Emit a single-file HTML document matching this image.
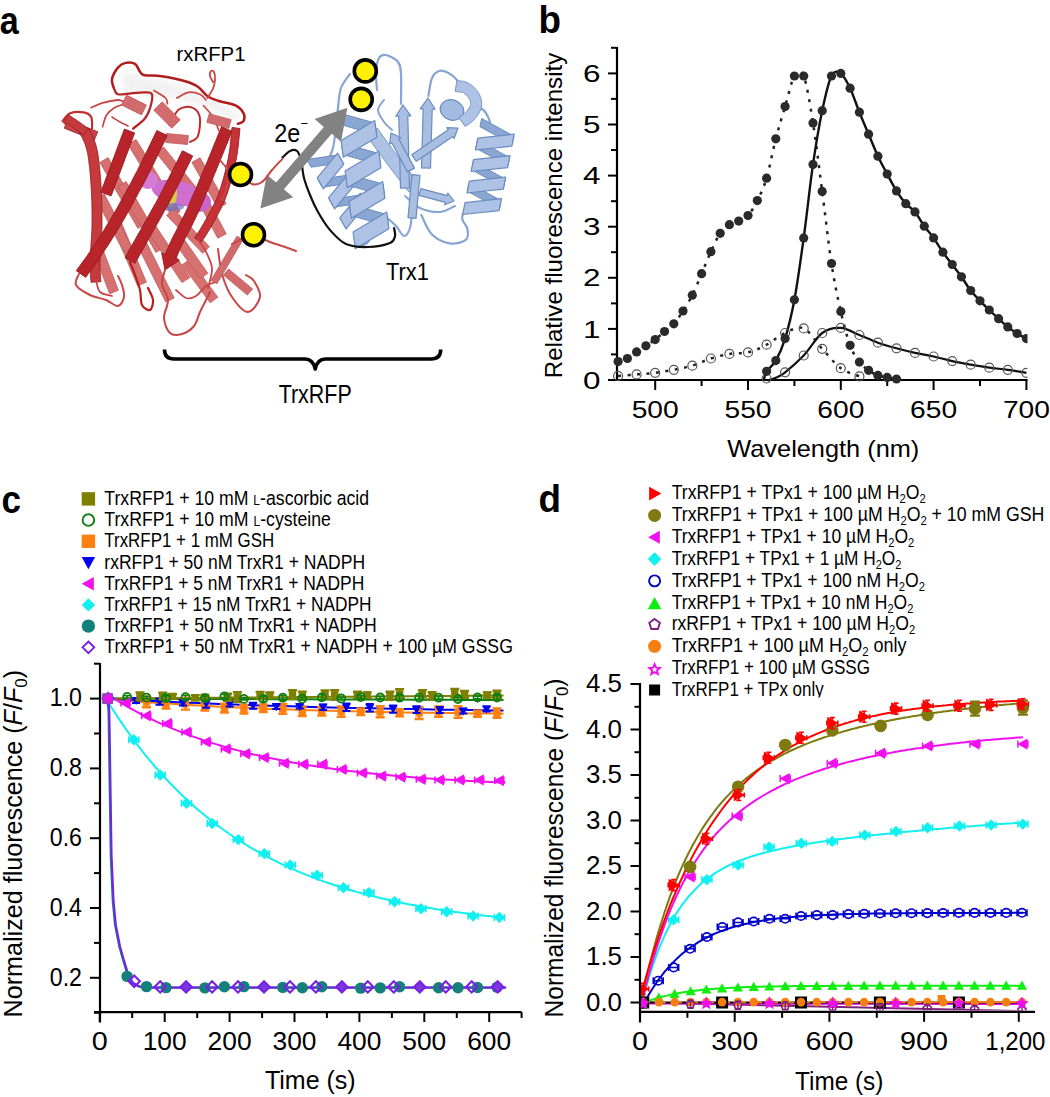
<!DOCTYPE html>
<html><head><meta charset="utf-8"><style>
html,body{margin:0;padding:0;background:#fff;}
svg{display:block;}
text{font-family:"Liberation Sans", sans-serif;fill:#000;}
</style></head><body>
<svg width="1050" height="1097" viewBox="0 0 1050 1097">
<rect width="1050" height="1097" fill="#fff"/>
<text x="-0.3" y="33.7" font-size="38" text-anchor="start" font-weight="bold" textLength="19" lengthAdjust="spacingAndGlyphs">a</text>
<text x="538.5" y="33.0" font-size="38" text-anchor="start" font-weight="bold" textLength="22.5" lengthAdjust="spacingAndGlyphs">b</text>
<text x="1.5" y="512.5" font-size="38" text-anchor="start" font-weight="bold" textLength="19.5" lengthAdjust="spacingAndGlyphs">c</text>
<text x="538.5" y="511.7" font-size="38" text-anchor="start" font-weight="bold" textLength="22.5" lengthAdjust="spacingAndGlyphs">d</text>
<line x1="617.0" y1="47.0" x2="617.0" y2="381.0" stroke="#000" stroke-width="2.2"/>
<line x1="608.0" y1="380.0" x2="1027.5" y2="380.0" stroke="#000" stroke-width="2.2"/>
<line x1="608.0" y1="380.0" x2="617.0" y2="380.0" stroke="#000" stroke-width="2"/>
<line x1="611.0" y1="354.4" x2="617.0" y2="354.4" stroke="#000" stroke-width="2"/>
<line x1="608.0" y1="328.9" x2="617.0" y2="328.9" stroke="#000" stroke-width="2"/>
<line x1="611.0" y1="303.4" x2="617.0" y2="303.4" stroke="#000" stroke-width="2"/>
<line x1="608.0" y1="277.8" x2="617.0" y2="277.8" stroke="#000" stroke-width="2"/>
<line x1="611.0" y1="252.2" x2="617.0" y2="252.2" stroke="#000" stroke-width="2"/>
<line x1="608.0" y1="226.7" x2="617.0" y2="226.7" stroke="#000" stroke-width="2"/>
<line x1="611.0" y1="201.2" x2="617.0" y2="201.2" stroke="#000" stroke-width="2"/>
<line x1="608.0" y1="175.6" x2="617.0" y2="175.6" stroke="#000" stroke-width="2"/>
<line x1="611.0" y1="150.0" x2="617.0" y2="150.0" stroke="#000" stroke-width="2"/>
<line x1="608.0" y1="124.5" x2="617.0" y2="124.5" stroke="#000" stroke-width="2"/>
<line x1="611.0" y1="98.9" x2="617.0" y2="98.9" stroke="#000" stroke-width="2"/>
<line x1="608.0" y1="73.4" x2="617.0" y2="73.4" stroke="#000" stroke-width="2"/>
<line x1="611.0" y1="47.8" x2="617.0" y2="47.8" stroke="#000" stroke-width="2"/>
<line x1="655.2" y1="380.0" x2="655.2" y2="390.0" stroke="#000" stroke-width="2"/>
<line x1="701.6" y1="380.0" x2="701.6" y2="386.0" stroke="#000" stroke-width="2"/>
<line x1="748.0" y1="380.0" x2="748.0" y2="390.0" stroke="#000" stroke-width="2"/>
<line x1="794.4" y1="380.0" x2="794.4" y2="386.0" stroke="#000" stroke-width="2"/>
<line x1="840.8" y1="380.0" x2="840.8" y2="390.0" stroke="#000" stroke-width="2"/>
<line x1="887.2" y1="380.0" x2="887.2" y2="386.0" stroke="#000" stroke-width="2"/>
<line x1="933.6" y1="380.0" x2="933.6" y2="390.0" stroke="#000" stroke-width="2"/>
<line x1="980.0" y1="380.0" x2="980.0" y2="386.0" stroke="#000" stroke-width="2"/>
<line x1="1026.4" y1="380.0" x2="1026.4" y2="390.0" stroke="#000" stroke-width="2"/>
<text x="600.5" y="388.6" font-size="24" text-anchor="end" textLength="17.5" lengthAdjust="spacingAndGlyphs">0</text>
<text x="600.5" y="337.5" font-size="24" text-anchor="end" textLength="17.5" lengthAdjust="spacingAndGlyphs">1</text>
<text x="600.5" y="286.4" font-size="24" text-anchor="end" textLength="17.5" lengthAdjust="spacingAndGlyphs">2</text>
<text x="600.5" y="235.3" font-size="24" text-anchor="end" textLength="17.5" lengthAdjust="spacingAndGlyphs">3</text>
<text x="600.5" y="184.2" font-size="24" text-anchor="end" textLength="17.5" lengthAdjust="spacingAndGlyphs">4</text>
<text x="600.5" y="133.1" font-size="24" text-anchor="end" textLength="17.5" lengthAdjust="spacingAndGlyphs">5</text>
<text x="600.5" y="82.0" font-size="24" text-anchor="end" textLength="17.5" lengthAdjust="spacingAndGlyphs">6</text>
<text x="655.2" y="417.5" font-size="24" text-anchor="middle" textLength="47" lengthAdjust="spacingAndGlyphs">500</text>
<text x="748.0" y="417.5" font-size="24" text-anchor="middle" textLength="47" lengthAdjust="spacingAndGlyphs">550</text>
<text x="840.8" y="417.5" font-size="24" text-anchor="middle" textLength="47" lengthAdjust="spacingAndGlyphs">600</text>
<text x="933.6" y="417.5" font-size="24" text-anchor="middle" textLength="47" lengthAdjust="spacingAndGlyphs">650</text>
<text x="1026.4" y="417.5" font-size="24" text-anchor="middle" textLength="47" lengthAdjust="spacingAndGlyphs">700</text>
<text x="823.3" y="456.7" font-size="24" text-anchor="middle" textLength="192" lengthAdjust="spacingAndGlyphs">Wavelength (nm)</text>
<text x="562.0" y="215.5" font-size="24" text-anchor="middle" textLength="325.5" lengthAdjust="spacingAndGlyphs" transform="rotate(-90 562.0 215.5)">Relative fluorescence intensity</text>
<line x1="100.0" y1="663.0" x2="100.0" y2="1022.5" stroke="#000" stroke-width="2.2"/>
<line x1="94.0" y1="1012.2" x2="521.5" y2="1012.2" stroke="#000" stroke-width="2.2"/>
<line x1="94.0" y1="1012.7" x2="100.0" y2="1012.7" stroke="#000" stroke-width="2"/>
<line x1="90.0" y1="977.8" x2="100.0" y2="977.8" stroke="#000" stroke-width="2"/>
<line x1="94.0" y1="942.9" x2="100.0" y2="942.9" stroke="#000" stroke-width="2"/>
<line x1="90.0" y1="908.0" x2="100.0" y2="908.0" stroke="#000" stroke-width="2"/>
<line x1="94.0" y1="873.1" x2="100.0" y2="873.1" stroke="#000" stroke-width="2"/>
<line x1="90.0" y1="838.2" x2="100.0" y2="838.2" stroke="#000" stroke-width="2"/>
<line x1="94.0" y1="803.3" x2="100.0" y2="803.3" stroke="#000" stroke-width="2"/>
<line x1="90.0" y1="768.4" x2="100.0" y2="768.4" stroke="#000" stroke-width="2"/>
<line x1="94.0" y1="733.5" x2="100.0" y2="733.5" stroke="#000" stroke-width="2"/>
<line x1="90.0" y1="698.6" x2="100.0" y2="698.6" stroke="#000" stroke-width="2"/>
<line x1="94.0" y1="663.7" x2="100.0" y2="663.7" stroke="#000" stroke-width="2"/>
<line x1="99.8" y1="1012.0" x2="99.8" y2="1022.0" stroke="#000" stroke-width="2"/>
<line x1="132.2" y1="1012.0" x2="132.2" y2="1018.0" stroke="#000" stroke-width="2"/>
<line x1="164.7" y1="1012.0" x2="164.7" y2="1022.0" stroke="#000" stroke-width="2"/>
<line x1="197.2" y1="1012.0" x2="197.2" y2="1018.0" stroke="#000" stroke-width="2"/>
<line x1="229.6" y1="1012.0" x2="229.6" y2="1022.0" stroke="#000" stroke-width="2"/>
<line x1="262.1" y1="1012.0" x2="262.1" y2="1018.0" stroke="#000" stroke-width="2"/>
<line x1="294.5" y1="1012.0" x2="294.5" y2="1022.0" stroke="#000" stroke-width="2"/>
<line x1="326.9" y1="1012.0" x2="326.9" y2="1018.0" stroke="#000" stroke-width="2"/>
<line x1="359.4" y1="1012.0" x2="359.4" y2="1022.0" stroke="#000" stroke-width="2"/>
<line x1="391.9" y1="1012.0" x2="391.9" y2="1018.0" stroke="#000" stroke-width="2"/>
<line x1="424.3" y1="1012.0" x2="424.3" y2="1022.0" stroke="#000" stroke-width="2"/>
<line x1="456.8" y1="1012.0" x2="456.8" y2="1018.0" stroke="#000" stroke-width="2"/>
<line x1="489.2" y1="1012.0" x2="489.2" y2="1022.0" stroke="#000" stroke-width="2"/>
<line x1="521.6" y1="1012.0" x2="521.6" y2="1018.0" stroke="#000" stroke-width="2"/>
<text x="82.0" y="985.6" font-size="25" text-anchor="end" textLength="32.2" lengthAdjust="spacingAndGlyphs">0.2</text>
<text x="82.0" y="915.8" font-size="25" text-anchor="end" textLength="32.2" lengthAdjust="spacingAndGlyphs">0.4</text>
<text x="82.0" y="846.0" font-size="25" text-anchor="end" textLength="32.2" lengthAdjust="spacingAndGlyphs">0.6</text>
<text x="82.0" y="776.2" font-size="25" text-anchor="end" textLength="32.2" lengthAdjust="spacingAndGlyphs">0.8</text>
<text x="82.0" y="706.4" font-size="25" text-anchor="end" textLength="32.2" lengthAdjust="spacingAndGlyphs">1.0</text>
<text x="99.8" y="1050.3" font-size="25" text-anchor="middle" textLength="16" lengthAdjust="spacingAndGlyphs">0</text>
<text x="164.7" y="1050.3" font-size="25" text-anchor="middle" textLength="44" lengthAdjust="spacingAndGlyphs">100</text>
<text x="229.6" y="1050.3" font-size="25" text-anchor="middle" textLength="44" lengthAdjust="spacingAndGlyphs">200</text>
<text x="294.5" y="1050.3" font-size="25" text-anchor="middle" textLength="44" lengthAdjust="spacingAndGlyphs">300</text>
<text x="359.4" y="1050.3" font-size="25" text-anchor="middle" textLength="44" lengthAdjust="spacingAndGlyphs">400</text>
<text x="424.3" y="1050.3" font-size="25" text-anchor="middle" textLength="44" lengthAdjust="spacingAndGlyphs">500</text>
<text x="489.2" y="1050.3" font-size="25" text-anchor="middle" textLength="44" lengthAdjust="spacingAndGlyphs">600</text>
<text x="310.3" y="1089.3" font-size="25" text-anchor="middle" textLength="90.8" lengthAdjust="spacingAndGlyphs">Time (s)</text>
<text x="22.5" y="843.6" font-size="25" text-anchor="middle" textLength="347.6" lengthAdjust="spacingAndGlyphs" transform="rotate(-90 22.5 843.6)">Normalized fluorescence (<tspan font-style="italic">F</tspan>/<tspan font-style="italic">F</tspan><tspan font-size="17" dy="5">0</tspan><tspan dy="-5">)</tspan></text>
<line x1="640.0" y1="683.0" x2="640.0" y2="1022.5" stroke="#000" stroke-width="2.2"/>
<line x1="640.0" y1="1011.8" x2="1035.0" y2="1011.8" stroke="#000" stroke-width="2.2"/>
<line x1="630.5" y1="1002.5" x2="640.0" y2="1002.5" stroke="#000" stroke-width="2"/>
<line x1="634.5" y1="979.8" x2="640.0" y2="979.8" stroke="#000" stroke-width="2"/>
<line x1="630.5" y1="957.0" x2="640.0" y2="957.0" stroke="#000" stroke-width="2"/>
<line x1="634.5" y1="934.2" x2="640.0" y2="934.2" stroke="#000" stroke-width="2"/>
<line x1="630.5" y1="911.5" x2="640.0" y2="911.5" stroke="#000" stroke-width="2"/>
<line x1="634.5" y1="888.8" x2="640.0" y2="888.8" stroke="#000" stroke-width="2"/>
<line x1="630.5" y1="866.0" x2="640.0" y2="866.0" stroke="#000" stroke-width="2"/>
<line x1="634.5" y1="843.2" x2="640.0" y2="843.2" stroke="#000" stroke-width="2"/>
<line x1="630.5" y1="820.5" x2="640.0" y2="820.5" stroke="#000" stroke-width="2"/>
<line x1="634.5" y1="797.8" x2="640.0" y2="797.8" stroke="#000" stroke-width="2"/>
<line x1="630.5" y1="775.0" x2="640.0" y2="775.0" stroke="#000" stroke-width="2"/>
<line x1="634.5" y1="752.2" x2="640.0" y2="752.2" stroke="#000" stroke-width="2"/>
<line x1="630.5" y1="729.5" x2="640.0" y2="729.5" stroke="#000" stroke-width="2"/>
<line x1="634.5" y1="706.8" x2="640.0" y2="706.8" stroke="#000" stroke-width="2"/>
<line x1="630.5" y1="684.0" x2="640.0" y2="684.0" stroke="#000" stroke-width="2"/>
<text x="622.0" y="1010.9" font-size="25" text-anchor="end" textLength="36" lengthAdjust="spacingAndGlyphs">0.0</text>
<text x="622.0" y="965.4" font-size="25" text-anchor="end" textLength="36" lengthAdjust="spacingAndGlyphs">1.5</text>
<text x="622.0" y="919.9" font-size="25" text-anchor="end" textLength="36" lengthAdjust="spacingAndGlyphs">2.0</text>
<text x="622.0" y="874.4" font-size="25" text-anchor="end" textLength="36" lengthAdjust="spacingAndGlyphs">2.5</text>
<text x="622.0" y="828.9" font-size="25" text-anchor="end" textLength="36" lengthAdjust="spacingAndGlyphs">3.0</text>
<text x="622.0" y="783.4" font-size="25" text-anchor="end" textLength="36" lengthAdjust="spacingAndGlyphs">3.5</text>
<text x="622.0" y="737.9" font-size="25" text-anchor="end" textLength="36" lengthAdjust="spacingAndGlyphs">4.0</text>
<text x="622.0" y="692.4" font-size="25" text-anchor="end" textLength="36" lengthAdjust="spacingAndGlyphs">4.5</text>
<line x1="640.0" y1="1011.8" x2="640.0" y2="1021.8" stroke="#000" stroke-width="2"/>
<line x1="687.4" y1="1011.8" x2="687.4" y2="1017.8" stroke="#000" stroke-width="2"/>
<line x1="734.7" y1="1011.8" x2="734.7" y2="1021.8" stroke="#000" stroke-width="2"/>
<line x1="782.1" y1="1011.8" x2="782.1" y2="1017.8" stroke="#000" stroke-width="2"/>
<line x1="829.4" y1="1011.8" x2="829.4" y2="1021.8" stroke="#000" stroke-width="2"/>
<line x1="876.8" y1="1011.8" x2="876.8" y2="1017.8" stroke="#000" stroke-width="2"/>
<line x1="924.1" y1="1011.8" x2="924.1" y2="1021.8" stroke="#000" stroke-width="2"/>
<line x1="971.5" y1="1011.8" x2="971.5" y2="1017.8" stroke="#000" stroke-width="2"/>
<line x1="1018.8" y1="1011.8" x2="1018.8" y2="1021.8" stroke="#000" stroke-width="2"/>
<text x="640.0" y="1050.3" font-size="25" text-anchor="middle" textLength="16" lengthAdjust="spacingAndGlyphs">0</text>
<text x="734.7" y="1050.3" font-size="25" text-anchor="middle" textLength="47" lengthAdjust="spacingAndGlyphs">300</text>
<text x="829.4" y="1050.3" font-size="25" text-anchor="middle" textLength="48" lengthAdjust="spacingAndGlyphs">600</text>
<text x="924.1" y="1050.3" font-size="25" text-anchor="middle" textLength="48" lengthAdjust="spacingAndGlyphs">900</text>
<text x="1015.3" y="1050.3" font-size="25" text-anchor="middle" textLength="60" lengthAdjust="spacingAndGlyphs">1,200</text>
<text x="839.2" y="1090.0" font-size="25" text-anchor="middle" textLength="88.3" lengthAdjust="spacingAndGlyphs">Time (s)</text>
<text x="562.7" y="848.0" font-size="25" text-anchor="middle" textLength="338.8" lengthAdjust="spacingAndGlyphs" transform="rotate(-90 562.7 848.0)">Normalized fluorescence (<tspan font-style="italic">F</tspan>/<tspan font-style="italic">F</tspan><tspan font-size="17" dy="5">0</tspan><tspan dy="-5">)</tspan></text>
<path d="M401.0,104.0 C401.0,99.0 401.5,81.0 401.0,74.0 C400.5,67.0 400.5,65.2 398.0,62.0 C395.5,58.8 389.2,55.7 386.0,55.0 C382.8,54.3 380.7,55.2 379.0,58.0 C377.3,60.8 376.3,66.7 376.0,72.0 C375.7,77.3 376.8,87.0 377.0,90.0" fill="none" stroke="#86a5d3" stroke-width="2.2" stroke-linecap="round" stroke-linejoin="round"/>
<path d="M428.4,96.0 C429.0,93.0 430.2,82.2 432.0,78.0 C433.8,73.8 436.4,71.9 439.1,71.0 C441.8,70.1 445.0,71.3 448.0,72.8 C451.0,74.3 454.8,77.5 456.9,79.9 C459.0,82.3 459.8,85.8 460.4,87.0" fill="none" stroke="#86a5d3" stroke-width="2.2" stroke-linecap="round" stroke-linejoin="round"/>
<path d="M474.6,108.3 C476.1,108.6 481.1,108.2 483.5,110.0 C485.9,111.8 487.7,116.3 488.9,119.0 C490.1,121.7 490.3,124.8 490.6,126.0" fill="none" stroke="#86a5d3" stroke-width="2.2" stroke-linecap="round" stroke-linejoin="round"/>
<path d="M485.3,209.6 C482.3,209.6 471.4,208.1 467.5,209.6 C463.6,211.1 462.2,215.2 462.2,218.5 C462.2,221.8 466.9,225.6 467.5,229.2 C468.1,232.8 468.8,237.5 465.8,239.9 C462.9,242.3 455.4,244.3 449.8,243.4 C444.2,242.5 436.8,239.2 432.0,234.5 C427.2,229.8 423.1,218.2 421.3,215.0" fill="none" stroke="#86a5d3" stroke-width="2.2" stroke-linecap="round" stroke-linejoin="round"/>
<path d="M412.0,212.0 C411.7,214.7 411.3,224.0 410.0,228.0 C408.7,232.0 406.3,236.3 404.0,236.0 C401.7,235.7 399.0,229.0 396.0,226.0 C393.0,223.0 389.3,218.7 386.0,218.0 C382.7,217.3 377.7,221.3 376.0,222.0" fill="none" stroke="#86a5d3" stroke-width="2.2" stroke-linecap="round" stroke-linejoin="round"/>
<path d="M350.0,74.0 C348.5,76.3 343.0,82.3 341.0,88.0 C339.0,93.7 338.8,101.3 338.0,108.0 C337.2,114.7 336.8,121.3 336.0,128.0 C335.2,134.7 334.3,142.7 333.0,148.0 C331.7,153.3 328.8,158.0 328.0,160.0" fill="none" stroke="#86a5d3" stroke-width="2.2" stroke-linecap="round" stroke-linejoin="round"/>
<path d="M405.0,196.0 C407.5,198.0 414.2,205.3 420.0,208.0 C425.8,210.7 434.2,212.3 440.0,212.0 C445.8,211.7 452.5,207.0 455.0,206.0" fill="none" stroke="#86a5d3" stroke-width="2.0" stroke-linecap="round" stroke-linejoin="round"/>
<path d="M372.0,236.0 C371.0,237.3 368.7,242.3 366.0,244.0 C363.3,245.7 357.7,245.7 356.0,246.0" fill="none" stroke="#86a5d3" stroke-width="2.0" stroke-linecap="round" stroke-linejoin="round"/>
<path d="M392.0,130.0 C390.7,128.7 386.3,125.3 384.0,122.0 C381.7,118.7 378.0,113.7 378.0,110.0 C378.0,106.3 383.0,101.7 384.0,100.0" fill="none" stroke="#86a5d3" stroke-width="2.0" stroke-linecap="round" stroke-linejoin="round"/>
<polygon points="366.7,135.8 367.3,136.7 368.1,137.7 369.0,139.0 370.0,140.4 371.1,141.9 372.3,143.5 373.5,145.2 374.8,147.0 376.0,148.8 377.3,150.5 378.6,152.2 379.8,153.9 381.0,155.5 382.2,157.1 383.4,158.8 384.7,160.5 386.0,162.2 387.2,163.9 388.5,165.6 389.8,167.3 391.1,169.0 392.4,170.7 393.6,172.3 394.8,173.9 396.1,175.6 397.4,177.3 398.8,179.0 400.1,180.8 401.5,182.5 402.8,184.3 404.1,185.9 405.3,187.4 406.4,188.8 407.4,190.1 408.2,191.1 408.9,192.0 419.1,184.0 418.4,183.1 417.6,182.1 416.6,180.8 415.5,179.4 414.3,177.9 413.1,176.2 411.7,174.6 410.4,172.8 409.0,171.1 407.7,169.4 406.4,167.7 405.2,166.1 404.0,164.5 402.7,162.8 401.5,161.2 400.2,159.5 398.9,157.8 397.6,156.1 396.4,154.4 395.1,152.7 393.8,151.0 392.6,149.4 391.4,147.7 390.2,146.1 389.1,144.5 387.8,142.9 386.6,141.1 385.3,139.4 384.1,137.6 382.8,136.0 381.7,134.3 380.6,132.8 379.6,131.4 378.7,130.1 377.9,129.1 377.3,128.2" fill="#adc2e4" stroke="#6a8cc0" stroke-width="0.9" stroke-linejoin="round"/>
<polygon points="306.8,159.6 311.1,167.2 342.9,162.4 338.6,154.8" fill="#8aa7d4" stroke="#6a8cc0" stroke-width="1" stroke-linejoin="round"/>
<polygon points="318.1,179.6 322.4,187.2 354.2,182.4 349.9,174.8" fill="#8aa7d4" stroke="#6a8cc0" stroke-width="1" stroke-linejoin="round"/>
<polygon points="329.5,199.6 333.8,207.2 365.5,202.4 361.2,194.8" fill="#8aa7d4" stroke="#6a8cc0" stroke-width="1" stroke-linejoin="round"/>
<polygon points="337.6,153.1 343.8,164.1 323.4,188.9 317.2,177.9" fill="#adc2e4" stroke="#6a8cc0" stroke-width="1.2" stroke-linejoin="round"/>
<polygon points="348.9,173.1 355.2,184.1 334.7,208.9 328.5,197.9" fill="#adc2e4" stroke="#6a8cc0" stroke-width="1.2" stroke-linejoin="round"/>
<polygon points="360.3,193.1 366.5,204.1 346.1,228.9 339.8,217.9" fill="#adc2e4" stroke="#6a8cc0" stroke-width="1.2" stroke-linejoin="round"/>
<polygon points="337.4,112.5 338.9,124.1 376.6,134.7 375.1,123.1" fill="#8aa7d4" stroke="#6a8cc0" stroke-width="1" stroke-linejoin="round"/>
<polygon points="341.4,143.0 342.9,154.6 380.6,165.2 379.1,153.6" fill="#8aa7d4" stroke="#6a8cc0" stroke-width="1" stroke-linejoin="round"/>
<polygon points="345.4,173.5 346.9,185.1 384.6,195.7 383.1,184.1" fill="#8aa7d4" stroke="#6a8cc0" stroke-width="1" stroke-linejoin="round"/>
<polygon points="349.4,204.0 350.9,215.6 388.6,226.2 387.1,214.6" fill="#8aa7d4" stroke="#6a8cc0" stroke-width="1" stroke-linejoin="round"/>
<polygon points="374.7,120.5 376.9,137.3 343.3,157.2 341.1,140.5" fill="#adc2e4" stroke="#6a8cc0" stroke-width="1.2" stroke-linejoin="round"/>
<polygon points="378.7,151.0 380.9,167.8 347.3,187.7 345.1,171.0" fill="#adc2e4" stroke="#6a8cc0" stroke-width="1.2" stroke-linejoin="round"/>
<polygon points="382.7,181.5 384.9,198.3 351.3,218.2 349.1,201.5" fill="#adc2e4" stroke="#6a8cc0" stroke-width="1.2" stroke-linejoin="round"/>
<polygon points="386.7,212.0 388.9,228.8 355.3,248.7 353.1,232.0" fill="#adc2e4" stroke="#6a8cc0" stroke-width="1.2" stroke-linejoin="round"/>
<polygon points="409.5,187.9 407.8,115.9 410.8,115.8 403.0,105.0 395.8,116.2 398.8,116.1 400.5,188.1" fill="#a9bfe2" stroke="#6a8cc0" stroke-width="1.2" stroke-linejoin="round"/>
<polygon points="430.5,168.1 432.2,109.1 435.2,109.2 428.0,98.0 420.2,108.8 423.2,108.9 421.5,167.9" fill="#a9bfe2" stroke="#6a8cc0" stroke-width="1.2" stroke-linejoin="round"/>
<polygon points="414.5,168.1 398.8,139.0 401.0,137.8 391.0,133.0 389.6,144.0 391.8,142.8 407.5,171.9" fill="#a9bfe2" stroke="#6a8cc0" stroke-width="1.2" stroke-linejoin="round"/>
<polygon points="416.3,161.3 452.8,136.4 454.2,138.4 458.0,128.0 446.9,127.7 448.3,129.8 411.7,154.7" fill="#a9bfe2" stroke="#6a8cc0" stroke-width="1.2" stroke-linejoin="round"/>
<polygon points="419.1,195.4 445.4,202.3 444.7,204.8 454.0,201.0 447.8,193.2 447.2,195.6 420.9,188.6" fill="#a9bfe2" stroke="#6a8cc0" stroke-width="1.2" stroke-linejoin="round"/>
<polygon points="412.0,174.6 408.0,217.6 416.0,218.4 420.0,175.4" fill="#a9bfe2" stroke="#6a8cc0" stroke-width="1.2" stroke-linejoin="round"/>
<polygon points="481.6,118.5 480.0,126.7 512.2,144.2 513.9,136.1" fill="#8aa7d4" stroke="#6a8cc0" stroke-width="1" stroke-linejoin="round"/>
<polygon points="477.4,140.0 475.8,148.2 508.0,165.7 509.6,157.6" fill="#8aa7d4" stroke="#6a8cc0" stroke-width="1" stroke-linejoin="round"/>
<polygon points="473.1,161.5 471.5,169.7 503.7,187.2 505.4,179.1" fill="#8aa7d4" stroke="#6a8cc0" stroke-width="1" stroke-linejoin="round"/>
<polygon points="468.9,183.0 467.3,191.2 499.5,208.7 501.1,200.6" fill="#8aa7d4" stroke="#6a8cc0" stroke-width="1" stroke-linejoin="round"/>
<polygon points="514.2,134.2 511.9,146.1 475.4,150.0 477.8,138.2" fill="#adc2e4" stroke="#6a8cc0" stroke-width="1.2" stroke-linejoin="round"/>
<polygon points="510.0,155.7 507.6,167.6 471.2,171.5 473.5,159.7" fill="#adc2e4" stroke="#6a8cc0" stroke-width="1.2" stroke-linejoin="round"/>
<polygon points="505.7,177.2 503.4,189.1 466.9,193.0 469.3,181.2" fill="#adc2e4" stroke="#6a8cc0" stroke-width="1.2" stroke-linejoin="round"/>
<polygon points="501.5,198.7 499.1,210.6 462.7,214.5 465.0,202.7" fill="#adc2e4" stroke="#6a8cc0" stroke-width="1.2" stroke-linejoin="round"/>
<ellipse cx="452" cy="110" rx="12" ry="10" fill="#a3bbe0" stroke="#6a8cc0" stroke-width="1.2" transform="rotate(20 452 110)"/>
<polygon points="455.1,91.4 455.8,91.5 456.5,91.6 457.3,91.7 458.1,91.8 459.0,91.9 459.8,92.0 460.6,92.1 461.4,92.2 462.0,92.4 462.6,92.5 463.1,92.7 463.4,92.8 463.8,93.1 464.3,93.5 464.9,93.9 465.5,94.3 466.0,94.8 466.6,95.4 467.2,96.0 467.7,96.5 468.1,97.1 468.5,97.7 468.9,98.2 469.2,98.7 469.5,99.2 469.7,99.8 470.0,100.3 470.2,100.9 470.4,101.5 470.5,102.1 470.6,102.6 470.7,103.1 470.7,103.6 470.7,104.1 470.7,104.5 470.6,104.9 470.5,105.3 470.4,105.7 470.1,106.3 469.8,106.9 469.4,107.6 469.0,108.3 468.5,109.0 468.0,109.7 467.5,110.4 466.9,111.1 466.4,111.8 465.9,112.3 465.5,112.8 465.0,113.2 464.5,113.6 463.9,114.1 463.2,114.6 462.5,115.1 461.9,115.5 461.2,116.0 460.5,116.4 459.9,116.8 459.3,117.2 458.8,117.5 465.2,126.5 465.5,126.3 465.9,126.0 466.4,125.7 467.1,125.2 467.9,124.7 468.7,124.2 469.6,123.6 470.5,122.9 471.4,122.2 472.3,121.4 473.3,120.6 474.1,119.7 474.8,118.8 475.5,118.0 476.2,117.1 476.9,116.2 477.6,115.2 478.3,114.2 478.9,113.2 479.5,112.1 480.1,110.9 480.6,109.7 481.1,108.4 481.4,107.1 481.6,105.8 481.7,104.5 481.7,103.3 481.6,102.1 481.5,100.9 481.2,99.7 481.0,98.6 480.6,97.4 480.2,96.4 479.8,95.3 479.3,94.3 478.8,93.3 478.2,92.3 477.5,91.3 476.8,90.3 476.0,89.4 475.2,88.5 474.4,87.6 473.5,86.8 472.6,86.0 471.7,85.2 470.7,84.5 469.7,83.8 468.6,83.2 467.3,82.6 466.0,82.1 464.8,81.7 463.5,81.4 462.3,81.2 461.2,81.0 460.2,80.9 459.2,80.8 458.4,80.7 457.7,80.7 457.2,80.6 456.9,80.6" fill="#adc2e4" stroke="#6a8cc0" stroke-width="0.9" stroke-linejoin="round"/>
<path d="M282.5,157.4 C283.8,156.3 287.6,152.1 290.0,151.0 C292.4,149.9 295.2,149.5 297.0,151.0 C298.8,152.5 299.8,155.5 301.0,160.0 C302.2,164.5 302.5,172.2 304.0,178.0 C305.5,183.8 307.7,189.3 310.0,195.0 C312.3,200.7 314.7,206.2 318.0,212.0 C321.3,217.8 325.3,224.7 330.0,230.0 C334.7,235.3 339.7,241.2 346.0,244.0 C352.3,246.8 360.7,247.2 368.0,247.0 C375.3,246.8 385.5,244.8 390.0,243.0 C394.5,241.2 394.3,238.5 395.0,236.0 C395.7,233.5 394.2,229.3 394.0,228.0" fill="none" stroke="#111" stroke-width="2.2" stroke-linecap="round" stroke-linejoin="round"/>
<polygon points="260.4,208.5 293.2,197.2 283.9,189.2 331.7,133.8 341.0,141.8 347.4,107.7 314.6,119.0 323.9,127.0 276.1,182.4 266.8,174.4" fill="#828282"/>
<defs><filter id="blr" x="-20%" y="-50%" width="140%" height="200%"><feGaussianBlur stdDeviation="3"/></filter></defs>
<path d="M122,72 C135,70 150,78 170,82 C200,88 222,102 240,114 L238,122 C220,114 200,106 180,100 C160,96 140,94 124,92 Z" fill="#dedede" opacity="0.4" filter="url(#blr)"/>
<path d="M114.0,88.6 C113.7,87.0 111.3,82.5 112.0,79.0 C112.7,75.5 115.7,70.3 117.9,67.6 C120.2,64.9 122.7,63.5 125.5,62.9 C128.3,62.3 132.6,62.4 135.0,63.8 C137.4,65.2 138.2,69.5 139.8,71.4 C141.4,73.3 140.8,74.4 144.5,75.2 C148.2,76.0 155.0,75.2 161.7,76.2 C168.4,77.2 178.5,79.2 184.5,81.0 C190.5,82.8 194.1,84.2 197.9,86.7 C201.7,89.2 203.9,93.8 207.4,96.2 C210.9,98.6 214.0,99.4 218.8,101.0 C223.6,102.6 231.9,103.7 236.0,105.7 C240.1,107.8 242.3,110.8 243.6,113.3 C244.9,115.8 244.5,119.2 243.6,121.0 C242.7,122.8 238.8,123.3 237.9,123.8" fill="none" stroke="#b01c1c" stroke-width="2.5" stroke-linecap="round" stroke-linejoin="round"/>
<path d="M114.0,88.6 C114.7,89.5 115.0,93.5 117.9,94.3 C120.8,95.1 126.8,93.6 131.2,93.3 C135.6,93.0 141.0,92.2 144.5,92.4 C148.0,92.6 151.1,91.8 152.0,94.3 C152.9,96.8 151.4,103.5 150.2,107.6 C148.9,111.7 147.4,115.5 144.5,119.0 C141.6,122.5 134.9,127.0 133.0,128.6" fill="none" stroke="#b82222" stroke-width="2.2" stroke-linecap="round" stroke-linejoin="round"/>
<path d="M207.4,98.0 C208.3,96.4 211.7,91.6 213.0,88.6 C214.3,85.6 214.8,82.8 215.0,80.0 C215.2,77.2 214.7,73.5 214.0,72.0 C213.3,70.5 211.7,70.3 211.0,71.0 C210.3,71.7 209.7,74.2 210.0,76.0 C210.3,77.8 212.5,81.0 213.0,82.0" fill="none" stroke="#c94646" stroke-width="1.8" stroke-linecap="round" stroke-linejoin="round"/>
<path d="M62.6,121.0 C63.9,119.7 66.7,114.7 70.2,113.3 C73.7,111.9 80.1,111.8 83.6,112.4 C87.1,113.0 89.8,114.4 91.2,117.1 C92.6,119.8 91.9,126.7 92.1,128.6" fill="none" stroke="#bf3030" stroke-width="2.2" stroke-linecap="round" stroke-linejoin="round"/>
<path d="M62.6,121.0 C63.8,122.2 67.1,126.0 70.0,128.0 C72.9,130.0 76.3,131.0 80.0,133.0 C83.7,135.0 90.0,138.8 92.0,140.0" fill="none" stroke="#c94646" stroke-width="2.0" stroke-linecap="round" stroke-linejoin="round"/>
<path d="M91.2,107.6 C93.1,106.8 98.1,104.2 102.6,102.9 C107.0,101.6 114.3,100.2 117.9,100.0 C121.5,99.8 123.0,101.7 124.0,102.0" fill="none" stroke="#c94646" stroke-width="1.8" stroke-linecap="round" stroke-linejoin="round"/>
<path d="M102.6,126.7 C103.2,124.8 104.5,118.3 106.4,115.2 C108.3,112.1 111.1,109.9 114.0,108.0 C116.9,106.1 122.3,104.7 124.0,104.0" fill="none" stroke="#c94646" stroke-width="1.7" stroke-linecap="round" stroke-linejoin="round"/>
<path d="M154.0,90.5 C155.9,91.8 163.3,95.8 165.5,98.0 C167.7,100.2 167.1,102.8 167.4,103.8" fill="none" stroke="#c94646" stroke-width="1.7" stroke-linecap="round" stroke-linejoin="round"/>
<path d="M176.9,98.0 C178.8,97.1 184.5,93.0 188.3,92.4 C192.1,91.8 196.9,93.0 199.8,94.3 C202.8,95.6 205.0,99.0 206.0,100.0" fill="none" stroke="#c94646" stroke-width="1.7" stroke-linecap="round" stroke-linejoin="round"/>
<path d="M169.3,124.8 C170.9,122.2 175.0,112.4 178.8,109.5 C182.6,106.6 188.6,106.3 192.1,107.6 C195.6,108.9 198.8,112.3 199.8,117.1 C200.8,121.9 199.5,132.0 197.9,136.2 C196.3,140.3 191.3,141.0 190.0,142.0" fill="none" stroke="#bf2b2b" stroke-width="2.0" stroke-linecap="round" stroke-linejoin="round"/>
<path d="M203.6,105.7 C205.2,107.6 210.6,113.0 213.1,117.1 C215.6,121.2 217.9,128.3 218.8,130.5" fill="none" stroke="#c94646" stroke-width="1.7" stroke-linecap="round" stroke-linejoin="round"/>
<path d="M112.0,117.0 C113.3,117.8 117.3,120.5 120.0,122.0 C122.7,123.5 126.7,125.3 128.0,126.0" fill="none" stroke="#c94646" stroke-width="1.6" stroke-linecap="round" stroke-linejoin="round"/>
<polygon points="99.9,162.4 137.9,228.4 146.1,223.6 108.1,157.6" fill="#d6716f" stroke="#c05a5c" stroke-width="0.8" stroke-linejoin="round"/>
<polygon points="111.6,223.8 137.6,285.8 146.4,282.2 120.4,220.2" fill="#d6716f" stroke="#c05a5c" stroke-width="0.8" stroke-linejoin="round"/>
<polygon points="127.9,144.5 171.9,216.5 180.1,211.5 136.1,139.5" fill="#d6716f" stroke="#c05a5c" stroke-width="0.8" stroke-linejoin="round"/>
<polygon points="166.6,215.3 202.6,253.3 209.4,246.7 173.4,208.7" fill="#d6716f" stroke="#c05a5c" stroke-width="0.8" stroke-linejoin="round"/>
<polygon points="135.8,242.1 165.8,302.1 174.2,297.9 144.2,237.9" fill="#d6716f" stroke="#c05a5c" stroke-width="0.8" stroke-linejoin="round"/>
<polygon points="191.9,162.3 217.9,208.3 226.1,203.7 200.1,157.7" fill="#d6716f" stroke="#c05a5c" stroke-width="0.8" stroke-linejoin="round"/>
<polygon points="156.3,153.0 196.3,203.0 203.7,197.0 163.7,147.0" fill="#d6716f" stroke="#c05a5c" stroke-width="0.8" stroke-linejoin="round"/>
<polygon points="93.6,251.7 109.6,293.7 118.4,290.3 102.4,248.3" fill="#d6716f" stroke="#c05a5c" stroke-width="0.8" stroke-linejoin="round"/>
<polygon points="182.2,264.8 210.2,302.8 217.8,297.2 189.8,259.2" fill="#d6716f" stroke="#c05a5c" stroke-width="0.8" stroke-linejoin="round"/>
<polygon points="95.8,198.2 123.8,252.2 132.2,247.8 104.2,193.8" fill="#d6716f" stroke="#c05a5c" stroke-width="0.8" stroke-linejoin="round"/>
<polygon points="117.9,186.4 155.9,252.4 164.1,247.6 126.1,181.6" fill="#d6716f" stroke="#c05a5c" stroke-width="0.8" stroke-linejoin="round"/>
<polygon points="146.0,228.6 182.0,282.6 190.0,277.4 154.0,223.4" fill="#d6716f" stroke="#c05a5c" stroke-width="0.8" stroke-linejoin="round"/>
<polygon points="172.1,238.7 200.1,278.7 207.9,273.3 179.9,233.3" fill="#d6716f" stroke="#c05a5c" stroke-width="0.8" stroke-linejoin="round"/>
<polygon points="201.8,208.2 217.8,238.2 226.2,233.8 210.2,203.8" fill="#d6716f" stroke="#c05a5c" stroke-width="0.8" stroke-linejoin="round"/>
<polygon points="121.5,104.9 141.5,114.9 146.5,105.1 126.5,95.1" fill="#d26b6d" stroke="#c05a5c" stroke-width="0.8" stroke-linejoin="round"/>
<polygon points="153.8,110.2 171.8,128.2 180.2,119.8 162.2,101.8" fill="#d26b6d" stroke="#c05a5c" stroke-width="0.8" stroke-linejoin="round"/>
<polygon points="165.6,142.5 187.6,144.5 188.4,135.5 166.4,133.5" fill="#d26b6d" stroke="#c05a5c" stroke-width="0.8" stroke-linejoin="round"/>
<polygon points="64.3,128.2 94.3,140.2 97.7,131.8 67.7,119.8" fill="#c84448" stroke="#921c20" stroke-width="0.8" stroke-linejoin="round"/>
<polygon points="206.8,122.3 228.8,128.3 231.2,119.7 209.2,113.7" fill="#d26b6d" stroke="#c05a5c" stroke-width="0.8" stroke-linejoin="round"/>
<ellipse cx="178" cy="193" rx="27" ry="12" fill="#cf6fcf" transform="rotate(14 178 193)"/>
<ellipse cx="148" cy="180" rx="10" ry="9" fill="#d67ad6"/>
<ellipse cx="200" cy="202" rx="11" ry="10" fill="#c964c9"/>
<ellipse cx="172" cy="196" rx="5" ry="11" fill="#d8c848" transform="rotate(10 172 196)"/>
<ellipse cx="172" cy="207" rx="12" ry="4" fill="#6c70c8" opacity="0.7"/>
<polygon points="79.4,132.0 79.9,133.0 80.4,134.2 81.1,135.5 81.7,136.8 82.5,138.3 83.2,139.9 84.0,141.6 84.7,143.3 85.4,145.2 86.0,147.1 86.6,149.0 87.1,151.1 87.6,153.3 88.0,155.7 88.4,158.3 88.8,161.0 89.1,163.9 89.5,166.8 89.8,169.8 90.1,172.9 90.3,176.0 90.6,179.1 90.8,182.2 91.0,185.3 91.2,188.5 91.4,191.7 91.5,194.9 91.7,198.3 91.8,201.6 91.9,205.0 91.9,208.4 92.0,211.8 92.0,215.1 92.0,218.4 92.0,221.7 92.0,224.9 91.9,228.1 91.8,231.3 91.6,234.6 91.5,237.9 91.2,241.2 91.0,244.4 90.8,247.6 90.6,250.7 90.4,253.7 90.2,256.6 90.1,259.3 90.0,261.9 90.0,264.3 90.0,266.6 90.1,268.8 90.2,270.9 90.3,272.9 90.4,274.7 90.5,276.4 90.6,277.9 90.8,279.2 90.9,280.4 91.0,281.4 91.0,282.3 101.0,281.7 100.9,280.7 100.8,279.6 100.7,278.4 100.6,277.0 100.5,275.5 100.4,273.9 100.2,272.2 100.1,270.4 100.1,268.5 100.0,266.5 100.0,264.3 100.0,262.1 100.1,259.7 100.2,257.1 100.3,254.3 100.5,251.4 100.8,248.3 101.0,245.1 101.2,241.8 101.4,238.5 101.6,235.1 101.8,231.8 101.9,228.4 102.0,225.1 102.0,221.8 102.0,218.4 102.0,215.1 102.0,211.6 101.9,208.2 101.9,204.8 101.8,201.3 101.7,197.9 101.5,194.5 101.4,191.2 101.2,187.9 101.0,184.7 100.8,181.5 100.5,178.3 100.3,175.1 100.0,172.0 99.7,168.8 99.4,165.7 99.1,162.7 98.7,159.7 98.3,156.8 97.9,154.1 97.4,151.4 96.9,148.9 96.3,146.4 95.6,144.1 94.8,141.8 94.0,139.6 93.1,137.6 92.3,135.7 91.5,134.0 90.7,132.4 90.0,131.0 89.4,129.8 88.9,128.8 88.6,128.0" fill="#c63a3e" stroke="#921c20" stroke-width="0.8" stroke-linejoin="round"/>
<polygon points="63.8,121.3 64.4,121.7 65.2,122.2 66.1,122.8 67.1,123.5 68.2,124.2 69.3,125.0 70.5,125.7 71.6,126.5 72.8,127.3 73.8,128.0 74.8,128.7 75.7,129.3 76.5,129.8 77.3,130.4 78.1,131.0 78.9,131.6 79.6,132.1 80.3,132.7 81.0,133.2 81.6,133.7 82.2,134.1 82.7,134.5 83.2,134.9 83.6,135.2 88.4,128.8 88.1,128.5 87.6,128.2 87.1,127.8 86.5,127.4 85.9,126.9 85.2,126.3 84.4,125.8 83.7,125.2 82.8,124.6 82.0,124.0 81.2,123.3 80.3,122.7 79.4,122.1 78.3,121.4 77.2,120.6 76.1,119.9 74.9,119.1 73.7,118.3 72.6,117.5 71.5,116.8 70.4,116.1 69.6,115.6 68.8,115.1 68.2,114.7" fill="#c63a3e" stroke="#921c20" stroke-width="0.8" stroke-linejoin="round"/>
<polygon points="124.3,129.1 123.8,130.6 123.1,132.5 122.3,134.6 121.4,137.1 120.4,139.8 119.3,142.6 118.3,145.5 117.1,148.5 116.0,151.5 114.9,154.5 113.9,157.4 112.8,160.1 111.8,162.8 110.7,165.7 109.6,168.8 108.4,171.8 107.3,175.0 106.1,178.0 105.0,181.0 104.0,183.7 103.0,186.3 102.2,188.6 101.4,190.5 100.9,192.1 111.1,195.9 111.7,194.4 112.5,192.4 113.3,190.2 114.3,187.6 115.3,184.8 116.4,181.9 117.6,178.8 118.7,175.7 119.9,172.6 121.0,169.6 122.1,166.7 123.2,163.9 124.2,161.2 125.2,158.3 126.3,155.4 127.5,152.4 128.6,149.4 129.7,146.4 130.7,143.6 131.7,140.9 132.6,138.5 133.4,136.3 134.1,134.4 134.7,132.9" fill="#b9232a" stroke="#921c20" stroke-width="0.9" stroke-linejoin="round"/>
<polygon points="156.8,130.5 155.9,132.5 154.7,134.9 153.3,137.8 151.8,141.0 150.1,144.5 148.3,148.3 146.5,152.1 144.5,156.1 142.6,160.0 140.7,163.9 138.7,167.7 136.9,171.4 135.0,174.9 133.1,178.6 131.1,182.4 129.1,186.2 127.0,190.0 125.0,193.8 122.9,197.6 120.8,201.3 118.8,205.0 116.8,208.5 114.9,211.9 113.0,215.1 111.2,218.2 109.5,221.2 107.7,224.1 106.0,226.8 104.4,229.5 102.7,232.2 101.1,234.7 99.5,237.3 97.9,239.7 96.3,242.1 94.7,244.5 93.2,246.8 91.7,249.1 90.1,251.5 88.4,253.8 86.8,256.2 85.2,258.4 83.6,260.6 82.1,262.7 80.6,264.7 79.3,266.5 78.2,268.1 77.1,269.5 76.3,270.7 85.7,277.3 86.5,276.2 87.5,274.9 88.6,273.3 89.9,271.5 91.4,269.5 92.9,267.4 94.5,265.1 96.2,262.8 97.9,260.4 99.5,258.0 101.2,255.6 102.8,253.2 104.4,250.8 105.9,248.4 107.5,246.0 109.1,243.5 110.8,240.9 112.4,238.3 114.1,235.6 115.8,232.9 117.6,230.0 119.3,227.1 121.1,224.0 123.0,220.9 124.9,217.6 126.8,214.2 128.8,210.6 130.9,206.9 133.0,203.1 135.0,199.3 137.1,195.5 139.2,191.6 141.3,187.8 143.3,184.0 145.2,180.3 147.1,176.6 149.0,172.9 150.9,169.1 152.9,165.1 154.9,161.1 156.8,157.1 158.7,153.2 160.5,149.5 162.2,146.0 163.7,142.8 165.1,139.9 166.2,137.5 167.2,135.5" fill="#b9232a" stroke="#921c20" stroke-width="0.9" stroke-linejoin="round"/>
<polygon points="182.5,150.7 181.4,152.8 180.1,155.5 178.5,158.6 176.8,162.1 174.9,165.8 172.9,169.8 170.8,173.9 168.8,178.1 166.7,182.2 164.6,186.1 162.7,189.9 160.9,193.3 159.2,196.5 157.5,199.7 155.8,202.9 154.0,206.0 152.3,209.0 150.6,212.1 149.0,215.0 147.3,218.0 145.7,220.9 144.1,223.7 142.5,226.5 141.0,229.2 139.5,231.9 137.9,234.7 136.3,237.5 134.8,240.3 133.2,243.0 131.7,245.7 130.3,248.2 129.0,250.6 127.8,252.7 126.7,254.7 125.7,256.3 125.0,257.7 135.0,263.3 135.8,262.0 136.7,260.3 137.8,258.4 139.0,256.2 140.3,253.8 141.8,251.3 143.3,248.7 144.8,245.9 146.4,243.1 147.9,240.3 149.5,237.5 151.0,234.8 152.5,232.1 154.1,229.3 155.7,226.5 157.3,223.6 159.0,220.7 160.7,217.7 162.4,214.7 164.1,211.6 165.8,208.4 167.6,205.2 169.3,202.0 171.1,198.7 172.9,195.2 174.9,191.4 176.9,187.4 179.0,183.3 181.1,179.1 183.2,175.0 185.2,171.0 187.1,167.2 188.8,163.7 190.4,160.6 191.7,158.0 192.7,155.9" fill="#b9232a" stroke="#921c20" stroke-width="0.9" stroke-linejoin="round"/>
<polygon points="221.4,126.8 220.6,128.8 219.6,131.3 218.4,134.2 217.1,137.4 215.7,141.0 214.1,144.7 212.6,148.6 211.0,152.6 209.3,156.5 207.7,160.4 206.2,164.2 204.7,167.8 203.2,171.3 201.7,174.8 200.2,178.4 198.7,182.1 197.2,185.7 195.7,189.3 194.1,192.9 192.6,196.4 191.1,199.9 189.6,203.2 188.2,206.5 186.8,209.6 185.4,212.6 184.0,215.5 182.6,218.3 181.2,221.0 179.8,223.7 178.5,226.4 177.1,228.9 175.8,231.5 174.5,234.0 173.2,236.6 172.0,239.1 170.8,241.6 169.6,244.1 168.5,246.7 167.4,249.3 166.3,251.8 165.2,254.4 161.7,252.9 165.0,270.0 179.3,260.2 175.8,258.8 176.9,256.3 177.9,253.8 179.0,251.3 180.1,248.8 181.2,246.4 182.3,244.1 183.5,241.7 184.7,239.3 186.0,236.8 187.3,234.2 188.7,231.6 190.0,229.0 191.5,226.2 192.9,223.4 194.3,220.5 195.8,217.5 197.2,214.4 198.7,211.2 200.2,207.9 201.7,204.5 203.2,201.0 204.7,197.4 206.2,193.8 207.8,190.2 209.3,186.5 210.8,182.9 212.4,179.3 213.8,175.7 215.3,172.2 216.8,168.6 218.4,164.8 220.0,160.9 221.6,156.9 223.2,152.9 224.8,149.0 226.3,145.3 227.8,141.7 229.1,138.5 230.2,135.6 231.2,133.1 232.0,131.2" fill="#b9232a" stroke="#921c20" stroke-width="0.9" stroke-linejoin="round"/>
<polygon points="232.0,127.5 231.8,129.1 231.7,131.0 231.4,133.3 231.2,135.8 230.9,138.5 230.6,141.3 230.3,144.3 230.0,147.4 229.6,150.4 229.1,153.4 228.6,156.4 228.1,159.2 227.5,162.0 226.8,165.0 226.1,168.0 225.4,171.0 224.6,174.1 223.8,177.2 222.9,180.3 222.0,183.3 221.1,186.3 220.2,189.2 219.2,191.9 218.3,194.6 217.3,197.1 216.2,199.7 215.1,202.2 213.9,204.6 212.7,207.0 211.5,209.4 210.2,211.7 209.0,213.9 207.8,216.1 206.7,218.2 205.5,220.2 204.5,222.1 203.5,223.8 202.5,225.5 201.6,227.1 200.6,228.7 199.7,230.2 198.8,231.6 197.9,232.9 197.1,234.1 196.4,235.2 195.7,236.2 195.1,237.1 194.6,237.8 201.4,242.2 201.8,241.4 202.4,240.6 203.0,239.6 203.8,238.5 204.6,237.3 205.5,235.9 206.4,234.5 207.4,232.9 208.4,231.3 209.4,229.6 210.5,227.8 211.5,225.9 212.5,224.0 213.6,222.1 214.8,220.0 216.0,217.8 217.3,215.5 218.5,213.1 219.8,210.7 221.1,208.1 222.3,205.5 223.5,202.9 224.7,200.2 225.7,197.4 226.8,194.6 227.8,191.7 228.7,188.7 229.7,185.6 230.6,182.5 231.5,179.3 232.3,176.1 233.1,173.0 233.9,169.8 234.6,166.8 235.3,163.7 235.9,160.8 236.5,157.8 237.0,154.7 237.5,151.5 237.9,148.3 238.3,145.2 238.6,142.2 238.9,139.3 239.2,136.5 239.4,134.0 239.6,131.8 239.8,130.0 240.0,128.5" fill="#c83236" stroke="#921c20" stroke-width="0.9" stroke-linejoin="round"/>
<path d="M79.0,274.0 C78.5,275.8 74.2,281.5 76.0,285.0 C77.8,288.5 85.0,292.5 90.0,295.0 C95.0,297.5 101.3,298.2 106.0,300.0 C110.7,301.8 115.0,306.5 118.0,306.0 C121.0,305.5 123.3,300.5 124.0,297.0 C124.7,293.5 123.0,288.5 122.0,285.0 C121.0,281.5 118.7,277.5 118.0,276.0" fill="none" stroke="#c94646" stroke-width="2.0" stroke-linecap="round" stroke-linejoin="round"/>
<path d="M130.0,262.0 C130.8,264.2 133.3,270.3 135.0,275.0 C136.7,279.7 138.8,285.0 140.0,290.0 C141.2,295.0 140.3,301.7 142.0,305.0 C143.7,308.3 148.2,310.8 150.0,310.0 C151.8,309.2 153.3,303.7 153.0,300.0 C152.7,296.3 148.8,290.0 148.0,288.0" fill="none" stroke="#b82020" stroke-width="2.2" stroke-linecap="round" stroke-linejoin="round"/>
<path d="M165.0,270.0 C164.5,272.3 161.5,279.0 162.0,284.0 C162.5,289.0 167.7,294.3 168.0,300.0 C168.3,305.7 163.7,312.5 164.0,318.0 C164.3,323.5 167.0,330.3 170.0,333.0 C173.0,335.7 178.0,335.2 182.0,334.0 C186.0,332.8 191.0,329.7 194.0,326.0 C197.0,322.3 198.0,316.3 200.0,312.0 C202.0,307.7 204.3,303.3 206.0,300.0 C207.7,296.7 209.3,293.3 210.0,292.0" fill="none" stroke="#c94646" stroke-width="2.0" stroke-linecap="round" stroke-linejoin="round"/>
<path d="M96.0,280.0 C96.7,282.0 97.3,289.3 100.0,292.0 C102.7,294.7 110.0,295.3 112.0,296.0" fill="none" stroke="#c94646" stroke-width="1.8" stroke-linecap="round" stroke-linejoin="round"/>
<path d="M176.0,290.0 C177.7,291.3 182.7,297.0 186.0,298.0 C189.3,299.0 192.7,298.0 196.0,296.0 C199.3,294.0 202.7,288.3 206.0,286.0 C209.3,283.7 214.3,282.7 216.0,282.0" fill="none" stroke="#c94646" stroke-width="1.8" stroke-linecap="round" stroke-linejoin="round"/>
<path d="M218.0,249.0 C218.7,253.2 219.7,266.0 222.0,274.0 C224.3,282.0 227.7,290.7 232.0,297.0 C236.3,303.3 243.3,312.0 248.0,312.0 C252.7,312.0 259.0,302.2 260.0,297.0 C261.0,291.8 256.3,284.7 254.0,281.0 C251.7,277.3 247.3,276.0 246.0,275.0" fill="none" stroke="#c94646" stroke-width="2.0" stroke-linecap="round" stroke-linejoin="round"/>
<polygon points="237.0,236.2 211.0,280.2 217.0,283.8 243.0,239.8" fill="#d06a6c" stroke="#c05a5c" stroke-width="0.8" stroke-linejoin="round"/>
<polygon points="223.4,275.1 247.4,295.1 252.6,288.9 228.6,268.9" fill="#d06a6c" stroke="#c05a5c" stroke-width="0.8" stroke-linejoin="round"/>
<path d="M198.0,240.0 C199.2,241.7 202.7,245.3 205.0,250.0 C207.3,254.7 211.5,261.7 212.0,268.0 C212.5,274.3 208.7,284.7 208.0,288.0" fill="none" stroke="#c94646" stroke-width="1.8" stroke-linecap="round" stroke-linejoin="round"/>
<path d="M220.0,160.0 C221.3,162.0 227.0,167.0 228.0,172.0 C229.0,177.0 227.0,185.3 226.0,190.0 C225.0,194.7 222.7,198.3 222.0,200.0" fill="none" stroke="#c94646" stroke-width="1.8" stroke-linecap="round" stroke-linejoin="round"/>
<path d="M226.0,166.0 C227.0,168.0 229.6,176.6 232.0,178.0 C234.4,179.4 239.1,175.1 240.5,174.5" fill="none" stroke="#c94646" stroke-width="2.0" stroke-linecap="round" stroke-linejoin="round"/>
<path d="M240.5,174.5 C242.4,176.1 248.4,182.8 252.0,184.0 C255.6,185.2 258.7,184.3 262.0,182.0 C265.3,179.7 268.6,173.9 272.0,170.0 C275.4,166.1 280.8,160.7 282.5,158.8" fill="none" stroke="#c94646" stroke-width="2.0" stroke-linecap="round" stroke-linejoin="round"/>
<path d="M253.5,234.7 C256.2,235.9 264.8,239.9 270.0,242.0 C275.2,244.1 280.7,245.5 285.0,247.0 C289.3,248.5 294.2,250.3 296.0,251.0" fill="none" stroke="#c94646" stroke-width="2.0" stroke-linecap="round" stroke-linejoin="round"/>
<path d="M232.0,244.0 C234.0,243.0 240.4,239.6 244.0,238.0 C247.6,236.4 251.9,235.2 253.5,234.7" fill="none" stroke="#c94646" stroke-width="2.0" stroke-linecap="round" stroke-linejoin="round"/>
<circle cx="365.3" cy="70.9" r="11" fill="#fff200" stroke="#000" stroke-width="3.6"/>
<circle cx="361.2" cy="99.4" r="11" fill="#fff200" stroke="#000" stroke-width="3.6"/>
<circle cx="240.5" cy="174.5" r="11" fill="#fff200" stroke="#000" stroke-width="3.6"/>
<circle cx="253.5" cy="234.7" r="11" fill="#fff200" stroke="#000" stroke-width="3.6"/>
<path d="M164.5,349.5 Q164.5,359 174,359 L305,359 Q313,359 315.2,369 Q317.4,359 325.4,359 L431,359 Q440.7,359 440.7,349.5" fill="none" stroke="#000" stroke-width="3.6" stroke-linejoin="round"/>
<text x="176.5" y="60.5" font-size="20" text-anchor="start" textLength="69" lengthAdjust="spacingAndGlyphs">rxRFP1</text>
<text x="274.3" y="141.7" font-size="25" text-anchor="start" textLength="26" lengthAdjust="spacingAndGlyphs">2e</text>
<text x="300.5" y="128.0" font-size="13" text-anchor="start">−</text>
<text x="386.0" y="280.3" font-size="23" text-anchor="start" textLength="43" lengthAdjust="spacingAndGlyphs">Trx1</text>
<text x="278.7" y="402.5" font-size="25" text-anchor="start" textLength="73" lengthAdjust="spacingAndGlyphs">TrxRFP</text>
<defs><clipPath id="cb"><rect x="610" y="40" width="417.5" height="345"/></clipPath></defs>
<g clip-path="url(#cb)">
<path d="M618.1,361.6 C619.6,361.1 624.3,360.2 627.4,358.5 C630.5,356.9 633.5,354.0 636.6,351.9 C639.7,349.8 642.8,347.8 645.9,345.8 C649.0,343.7 652.1,342.0 655.2,339.6 C658.3,337.2 661.4,334.1 664.5,331.5 C667.6,328.8 670.7,327.2 673.8,323.8 C676.9,320.4 679.9,315.8 683.0,311.0 C686.1,306.2 689.2,301.4 692.3,295.2 C695.4,289.0 698.5,281.0 701.6,273.7 C704.7,266.5 707.8,258.5 710.9,251.7 C714.0,245.0 717.1,237.9 720.2,233.3 C723.3,228.8 726.3,226.7 729.4,224.7 C732.5,222.6 735.6,222.6 738.7,221.1 C741.8,219.5 744.9,218.9 748.0,215.5 C751.1,212.1 754.2,206.9 757.3,200.6 C760.4,194.4 763.5,188.5 766.6,178.2 C769.7,167.8 772.7,150.7 775.8,138.8 C778.9,126.9 782.0,117.1 785.1,106.6 C788.2,96.1 791.3,81.1 794.4,76.0 C797.5,70.8 800.6,68.1 803.7,76.0 C806.8,83.8 809.9,103.7 813.0,123.0 C816.1,142.2 819.1,168.0 822.2,191.4 C825.3,214.9 828.4,243.5 831.5,263.5 C834.6,283.5 837.7,297.9 840.8,311.5 C843.9,325.2 847.0,336.8 850.1,345.3 C853.2,353.7 856.3,357.9 859.4,362.1 C862.5,366.3 865.5,368.1 868.6,370.3 C871.7,372.5 874.8,374.2 877.9,375.4 C881.0,376.6 884.1,376.8 887.2,377.4 C890.3,378.0 894.9,378.7 896.5,379.0" fill="none" stroke="#222" stroke-width="2.5" stroke-dasharray="3 6.5" stroke-linecap="butt"/>
<path d="M618.1,375.9 C621.2,375.7 630.5,374.9 636.6,374.4 C642.8,373.9 649.0,373.6 655.2,372.8 C661.4,372.1 667.6,371.0 673.8,369.8 C679.9,368.6 686.1,367.6 692.3,365.7 C698.5,363.8 704.7,360.5 710.9,358.5 C717.1,356.6 723.3,355.0 729.4,353.9 C735.6,352.9 741.8,353.9 748.0,352.4 C754.2,350.9 760.4,348.0 766.6,344.7 C772.7,341.5 778.9,335.7 785.1,333.0 C791.3,330.3 797.5,325.7 803.7,328.4 C809.9,331.0 816.1,342.2 822.2,348.8 C828.4,355.5 834.6,363.6 840.8,368.2 C847.0,372.8 856.3,375.1 859.4,376.4" fill="none" stroke="#222" stroke-width="2.5" stroke-dasharray="3 6.5" stroke-linecap="butt"/>
<path d="M763.8,380.0 C764.2,378.6 764.5,374.5 766.6,371.3 C768.6,368.1 772.7,366.0 775.8,360.6 C778.9,355.1 782.0,348.7 785.1,338.6 C788.2,328.5 791.3,316.6 794.4,299.8 C797.5,283.0 800.6,260.5 803.7,237.9 C806.8,215.4 809.9,185.6 813.0,164.4 C816.1,143.2 819.1,125.4 822.2,110.7 C825.3,96.0 828.4,82.2 831.5,76.0 C834.6,69.7 837.7,71.4 840.8,73.4 C843.9,75.4 847.0,81.7 850.1,88.2 C853.2,94.7 856.3,104.6 859.4,112.2 C862.5,119.9 865.5,126.9 868.6,134.2 C871.7,141.5 874.8,149.5 877.9,156.2 C881.0,162.8 884.1,168.3 887.2,174.1 C890.3,179.9 893.4,186.0 896.5,190.9 C899.6,195.9 902.7,200.2 905.8,203.7 C908.9,207.2 911.9,208.1 915.0,211.9 C918.1,215.6 921.2,221.8 924.3,226.2 C927.4,230.5 930.5,233.6 933.6,237.9 C936.7,242.3 939.8,247.8 942.9,252.2 C946.0,256.7 949.1,260.4 952.2,264.5 C955.3,268.6 958.3,272.4 961.4,276.8 C964.5,281.1 967.6,286.6 970.7,290.6 C973.8,294.6 976.9,297.6 980.0,300.8 C983.1,304.0 986.2,307.0 989.3,310.0 C992.4,313.0 995.5,315.9 998.6,318.7 C1001.7,321.5 1004.7,324.4 1007.8,326.9 C1010.9,329.3 1014.0,331.5 1017.1,333.5 C1020.2,335.5 1024.9,337.8 1026.4,338.6" fill="none" stroke="#111" stroke-width="2.4"/>
<path d="M767.5,380.5 C769.2,379.9 774.8,378.3 777.7,376.9 C780.6,375.6 780.8,375.9 785.1,372.3 C789.5,368.8 797.5,362.0 803.7,355.5 C809.9,348.9 816.1,337.6 822.2,333.0 C828.4,328.4 834.6,327.5 840.8,327.9 C847.0,328.2 853.2,332.6 859.4,335.0 C865.5,337.5 871.7,340.5 877.9,342.7 C884.1,344.9 890.3,346.6 896.5,348.3 C902.7,350.0 908.9,351.6 915.0,352.9 C921.2,354.3 927.4,355.1 933.6,356.5 C939.8,357.9 946.0,359.7 952.2,361.1 C958.3,362.5 964.5,363.6 970.7,364.7 C976.9,365.8 983.1,366.9 989.3,367.7 C995.5,368.6 1001.7,368.9 1007.8,369.8 C1014.0,370.6 1023.3,372.3 1026.4,372.8" fill="none" stroke="#111" stroke-width="2.2"/>
<circle cx="618.1" cy="375.9" r="4.5" fill="none" stroke="#555" stroke-width="1.2"/>
<circle cx="636.6" cy="374.4" r="4.5" fill="none" stroke="#555" stroke-width="1.2"/>
<circle cx="655.2" cy="372.8" r="4.5" fill="none" stroke="#555" stroke-width="1.2"/>
<circle cx="673.8" cy="369.8" r="4.5" fill="none" stroke="#555" stroke-width="1.2"/>
<circle cx="692.3" cy="365.7" r="4.5" fill="none" stroke="#555" stroke-width="1.2"/>
<circle cx="710.9" cy="358.5" r="4.5" fill="none" stroke="#555" stroke-width="1.2"/>
<circle cx="729.4" cy="353.9" r="4.5" fill="none" stroke="#555" stroke-width="1.2"/>
<circle cx="748.0" cy="352.4" r="4.5" fill="none" stroke="#555" stroke-width="1.2"/>
<circle cx="766.6" cy="344.7" r="4.5" fill="none" stroke="#555" stroke-width="1.2"/>
<circle cx="785.1" cy="333.0" r="4.5" fill="none" stroke="#555" stroke-width="1.2"/>
<circle cx="803.7" cy="328.4" r="4.5" fill="none" stroke="#555" stroke-width="1.2"/>
<circle cx="822.2" cy="348.8" r="4.5" fill="none" stroke="#555" stroke-width="1.2"/>
<circle cx="840.8" cy="368.2" r="4.5" fill="none" stroke="#555" stroke-width="1.2"/>
<circle cx="859.4" cy="376.4" r="4.5" fill="none" stroke="#555" stroke-width="1.2"/>
<circle cx="766.6" cy="378.5" r="4.5" fill="none" stroke="#555" stroke-width="1.2"/>
<circle cx="785.1" cy="372.3" r="4.5" fill="none" stroke="#555" stroke-width="1.2"/>
<circle cx="803.7" cy="355.5" r="4.5" fill="none" stroke="#555" stroke-width="1.2"/>
<circle cx="822.2" cy="333.0" r="4.5" fill="none" stroke="#555" stroke-width="1.2"/>
<circle cx="840.8" cy="327.9" r="4.5" fill="none" stroke="#555" stroke-width="1.2"/>
<circle cx="859.4" cy="335.0" r="4.5" fill="none" stroke="#555" stroke-width="1.2"/>
<circle cx="877.9" cy="342.7" r="4.5" fill="none" stroke="#555" stroke-width="1.2"/>
<circle cx="896.5" cy="348.3" r="4.5" fill="none" stroke="#555" stroke-width="1.2"/>
<circle cx="915.0" cy="352.9" r="4.5" fill="none" stroke="#555" stroke-width="1.2"/>
<circle cx="933.6" cy="356.5" r="4.5" fill="none" stroke="#555" stroke-width="1.2"/>
<circle cx="952.2" cy="361.1" r="4.5" fill="none" stroke="#555" stroke-width="1.2"/>
<circle cx="970.7" cy="364.7" r="4.5" fill="none" stroke="#555" stroke-width="1.2"/>
<circle cx="989.3" cy="367.7" r="4.5" fill="none" stroke="#555" stroke-width="1.2"/>
<circle cx="1007.8" cy="369.8" r="4.5" fill="none" stroke="#555" stroke-width="1.2"/>
<circle cx="1026.4" cy="372.8" r="4.5" fill="none" stroke="#555" stroke-width="1.2"/>
<circle cx="618.1" cy="361.6" r="4.6" fill="#2a2a2a"/>
<circle cx="627.4" cy="358.5" r="4.6" fill="#2a2a2a"/>
<circle cx="636.6" cy="351.9" r="4.6" fill="#2a2a2a"/>
<circle cx="645.9" cy="345.8" r="4.6" fill="#2a2a2a"/>
<circle cx="655.2" cy="339.6" r="4.6" fill="#2a2a2a"/>
<circle cx="664.5" cy="331.5" r="4.6" fill="#2a2a2a"/>
<circle cx="673.8" cy="323.8" r="4.6" fill="#2a2a2a"/>
<circle cx="683.0" cy="311.0" r="4.6" fill="#2a2a2a"/>
<circle cx="692.3" cy="295.2" r="4.6" fill="#2a2a2a"/>
<circle cx="701.6" cy="273.7" r="4.6" fill="#2a2a2a"/>
<circle cx="710.9" cy="251.7" r="4.6" fill="#2a2a2a"/>
<circle cx="720.2" cy="233.3" r="4.6" fill="#2a2a2a"/>
<circle cx="729.4" cy="224.7" r="4.6" fill="#2a2a2a"/>
<circle cx="738.7" cy="221.1" r="4.6" fill="#2a2a2a"/>
<circle cx="748.0" cy="215.5" r="4.6" fill="#2a2a2a"/>
<circle cx="757.3" cy="200.6" r="4.6" fill="#2a2a2a"/>
<circle cx="766.6" cy="178.2" r="4.6" fill="#2a2a2a"/>
<circle cx="775.8" cy="138.8" r="4.6" fill="#2a2a2a"/>
<circle cx="785.1" cy="106.6" r="4.6" fill="#2a2a2a"/>
<circle cx="794.4" cy="76.0" r="4.6" fill="#2a2a2a"/>
<circle cx="803.7" cy="76.0" r="4.6" fill="#2a2a2a"/>
<circle cx="813.0" cy="123.0" r="4.6" fill="#2a2a2a"/>
<circle cx="822.2" cy="191.4" r="4.6" fill="#2a2a2a"/>
<circle cx="831.5" cy="263.5" r="4.6" fill="#2a2a2a"/>
<circle cx="840.8" cy="311.5" r="4.6" fill="#2a2a2a"/>
<circle cx="850.1" cy="345.3" r="4.6" fill="#2a2a2a"/>
<circle cx="859.4" cy="362.1" r="4.6" fill="#2a2a2a"/>
<circle cx="868.6" cy="370.3" r="4.6" fill="#2a2a2a"/>
<circle cx="877.9" cy="375.4" r="4.6" fill="#2a2a2a"/>
<circle cx="887.2" cy="377.4" r="4.6" fill="#2a2a2a"/>
<circle cx="896.5" cy="379.0" r="4.6" fill="#2a2a2a"/>
<circle cx="766.6" cy="371.3" r="4.6" fill="#2a2a2a"/>
<circle cx="775.8" cy="360.6" r="4.6" fill="#2a2a2a"/>
<circle cx="785.1" cy="338.6" r="4.6" fill="#2a2a2a"/>
<circle cx="794.4" cy="299.8" r="4.6" fill="#2a2a2a"/>
<circle cx="803.7" cy="237.9" r="4.6" fill="#2a2a2a"/>
<circle cx="813.0" cy="164.4" r="4.6" fill="#2a2a2a"/>
<circle cx="822.2" cy="110.7" r="4.6" fill="#2a2a2a"/>
<circle cx="831.5" cy="76.0" r="4.6" fill="#2a2a2a"/>
<circle cx="840.8" cy="73.4" r="4.6" fill="#2a2a2a"/>
<circle cx="850.1" cy="88.2" r="4.6" fill="#2a2a2a"/>
<circle cx="859.4" cy="112.2" r="4.6" fill="#2a2a2a"/>
<circle cx="868.6" cy="134.2" r="4.6" fill="#2a2a2a"/>
<circle cx="877.9" cy="156.2" r="4.6" fill="#2a2a2a"/>
<circle cx="887.2" cy="174.1" r="4.6" fill="#2a2a2a"/>
<circle cx="896.5" cy="190.9" r="4.6" fill="#2a2a2a"/>
<circle cx="905.8" cy="203.7" r="4.6" fill="#2a2a2a"/>
<circle cx="915.0" cy="211.9" r="4.6" fill="#2a2a2a"/>
<circle cx="924.3" cy="226.2" r="4.6" fill="#2a2a2a"/>
<circle cx="933.6" cy="237.9" r="4.6" fill="#2a2a2a"/>
<circle cx="942.9" cy="252.2" r="4.6" fill="#2a2a2a"/>
<circle cx="952.2" cy="264.5" r="4.6" fill="#2a2a2a"/>
<circle cx="961.4" cy="276.8" r="4.6" fill="#2a2a2a"/>
<circle cx="970.7" cy="290.6" r="4.6" fill="#2a2a2a"/>
<circle cx="980.0" cy="300.8" r="4.6" fill="#2a2a2a"/>
<circle cx="989.3" cy="310.0" r="4.6" fill="#2a2a2a"/>
<circle cx="998.6" cy="318.7" r="4.6" fill="#2a2a2a"/>
<circle cx="1007.8" cy="326.9" r="4.6" fill="#2a2a2a"/>
<circle cx="1017.1" cy="333.5" r="4.6" fill="#2a2a2a"/>
<circle cx="1026.4" cy="338.6" r="4.6" fill="#2a2a2a"/>
</g>
<defs><clipPath id="cc"><rect x="101" y="660" width="425" height="351"/></clipPath></defs>
<g clip-path="url(#cc)">
<path d="M107.6,698.6 L117.7,699.6 L127.9,700.5 L138.0,701.4 L148.2,702.2 L158.3,702.9 L168.5,703.6 L178.6,704.3 L188.8,705.0 L198.9,705.6 L209.1,706.1 L219.2,706.7 L229.4,707.2 L239.6,707.6 L249.7,708.1 L259.9,708.5 L270.0,708.9 L280.2,709.3 L290.3,709.6 L300.5,710.0 L310.6,710.3 L320.8,710.6 L330.9,710.8 L341.1,711.1 L351.2,711.3 L361.4,711.6 L371.5,711.8 L381.7,712.0 L391.8,712.2 L402.0,712.4 L412.1,712.5 L422.3,712.7 L432.4,712.8 L442.6,713.0 L452.7,713.1 L462.9,713.2 L473.0,713.4 L483.2,713.5 L493.3,713.6 L503.5,713.7" fill="none" stroke="#ff7f0f" stroke-width="2"/>
<path d="M107.6,698.6 L117.7,699.2 L127.9,699.7 L138.0,700.3 L148.2,700.8 L158.3,701.3 L168.5,701.8 L178.6,702.3 L188.8,702.7 L198.9,703.1 L209.1,703.5 L219.2,703.9 L229.4,704.3 L239.6,704.7 L249.7,705.0 L259.9,705.4 L270.0,705.7 L280.2,706.0 L290.3,706.3 L300.5,706.6 L310.6,706.9 L320.8,707.2 L330.9,707.4 L341.1,707.7 L351.2,707.9 L361.4,708.1 L371.5,708.3 L381.7,708.6 L391.8,708.8 L402.0,709.0 L412.1,709.1 L422.3,709.3 L432.4,709.5 L442.6,709.7 L452.7,709.8 L462.9,710.0 L473.0,710.1 L483.2,710.3 L493.3,710.4 L503.5,710.6" fill="none" stroke="#0000ee" stroke-width="2"/>
<path d="M107.6,698.6 L117.7,698.6 L127.9,698.7 L138.0,698.7 L148.2,698.7 L158.3,698.8 L168.5,698.8 L178.6,698.9 L188.8,698.9 L198.9,698.9 L209.1,699.0 L219.2,699.0 L229.4,699.0 L239.6,699.1 L249.7,699.1 L259.9,699.1 L270.0,699.2 L280.2,699.2 L290.3,699.2 L300.5,699.3 L310.6,699.3 L320.8,699.4 L330.9,699.4 L341.1,699.4 L351.2,699.5 L361.4,699.5 L371.5,699.5 L381.7,699.6 L391.8,699.6 L402.0,699.6 L412.1,699.7 L422.3,699.7 L432.4,699.7 L442.6,699.8 L452.7,699.8 L462.9,699.9 L473.0,699.9 L483.2,699.9 L493.3,700.0 L503.5,700.0" fill="none" stroke="#0f7f0f" stroke-width="2"/>
<path d="M107.6,698.6 L117.7,698.5 L127.9,698.4 L138.0,698.4 L148.2,698.3 L158.3,698.2 L168.5,698.1 L178.6,698.0 L188.8,698.0 L198.9,697.9 L209.1,697.8 L219.2,697.7 L229.4,697.6 L239.6,697.6 L249.7,697.5 L259.9,697.4 L270.0,697.3 L280.2,697.2 L290.3,697.2 L300.5,697.1 L310.6,697.0 L320.8,696.9 L330.9,696.8 L341.1,696.7 L351.2,696.7 L361.4,696.6 L371.5,696.5 L381.7,696.4 L391.8,696.3 L402.0,696.3 L412.1,696.2 L422.3,696.1 L432.4,696.0 L442.6,695.9 L452.7,695.9 L462.9,695.8 L473.0,695.7 L483.2,695.6 L493.3,695.5 L503.5,695.5" fill="none" stroke="#7f7f00" stroke-width="2"/>
<path d="M146.5,696.6 V707.2 M142.0,696.6 H151.0 M142.0,707.2 H151.0" stroke="#ff7f0f" stroke-width="2.4" fill="none"/>
<rect x="142.8" y="698.2" width="7.4" height="7.4" fill="#ff7f0f"/>
<path d="M166.0,699.5 V708.6 M161.5,699.5 H170.5 M161.5,708.6 H170.5" stroke="#ff7f0f" stroke-width="2.4" fill="none"/>
<rect x="162.3" y="700.3" width="7.4" height="7.4" fill="#ff7f0f"/>
<path d="M185.5,697.7 V709.6 M181.0,697.7 H190.0 M181.0,709.6 H190.0" stroke="#ff7f0f" stroke-width="2.4" fill="none"/>
<rect x="181.7" y="699.9" width="7.4" height="7.4" fill="#ff7f0f"/>
<path d="M204.9,703.4 V710.5 M200.4,703.4 H209.4 M200.4,710.5 H209.4" stroke="#ff7f0f" stroke-width="2.4" fill="none"/>
<rect x="201.2" y="703.2" width="7.4" height="7.4" fill="#ff7f0f"/>
<path d="M224.4,703.8 V712.5 M219.9,703.8 H228.9 M219.9,712.5 H228.9" stroke="#ff7f0f" stroke-width="2.4" fill="none"/>
<rect x="220.7" y="704.5" width="7.4" height="7.4" fill="#ff7f0f"/>
<path d="M243.9,704.8 V713.5 M239.4,704.8 H248.4 M239.4,713.5 H248.4" stroke="#ff7f0f" stroke-width="2.4" fill="none"/>
<rect x="240.2" y="705.4" width="7.4" height="7.4" fill="#ff7f0f"/>
<path d="M263.3,704.5 V712.0 M258.8,704.5 H267.8 M258.8,712.0 H267.8" stroke="#ff7f0f" stroke-width="2.4" fill="none"/>
<rect x="259.6" y="704.5" width="7.4" height="7.4" fill="#ff7f0f"/>
<path d="M282.8,704.0 V713.7 M278.3,704.0 H287.3 M278.3,713.7 H287.3" stroke="#ff7f0f" stroke-width="2.4" fill="none"/>
<rect x="279.1" y="705.2" width="7.4" height="7.4" fill="#ff7f0f"/>
<path d="M302.3,706.6 V716.1 M297.8,706.6 H306.8 M297.8,716.1 H306.8" stroke="#ff7f0f" stroke-width="2.4" fill="none"/>
<rect x="298.6" y="707.6" width="7.4" height="7.4" fill="#ff7f0f"/>
<path d="M321.8,707.0 V715.5 M317.3,707.0 H326.3 M317.3,715.5 H326.3" stroke="#ff7f0f" stroke-width="2.4" fill="none"/>
<rect x="318.0" y="707.5" width="7.4" height="7.4" fill="#ff7f0f"/>
<path d="M341.2,706.5 V716.9 M336.7,706.5 H345.7 M336.7,716.9 H345.7" stroke="#ff7f0f" stroke-width="2.4" fill="none"/>
<rect x="337.5" y="708.0" width="7.4" height="7.4" fill="#ff7f0f"/>
<path d="M360.7,708.4 V715.1 M356.2,708.4 H365.2 M356.2,715.1 H365.2" stroke="#ff7f0f" stroke-width="2.4" fill="none"/>
<rect x="357.0" y="708.0" width="7.4" height="7.4" fill="#ff7f0f"/>
<path d="M380.2,706.3 V717.3 M375.7,706.3 H384.7 M375.7,717.3 H384.7" stroke="#ff7f0f" stroke-width="2.4" fill="none"/>
<rect x="376.4" y="708.1" width="7.4" height="7.4" fill="#ff7f0f"/>
<path d="M399.6,709.3 V716.4 M395.1,709.3 H404.1 M395.1,716.4 H404.1" stroke="#ff7f0f" stroke-width="2.4" fill="none"/>
<rect x="395.9" y="709.1" width="7.4" height="7.4" fill="#ff7f0f"/>
<path d="M419.1,706.9 V719.0 M414.6,706.9 H423.6 M414.6,719.0 H423.6" stroke="#ff7f0f" stroke-width="2.4" fill="none"/>
<rect x="415.4" y="709.2" width="7.4" height="7.4" fill="#ff7f0f"/>
<path d="M438.6,706.5 V716.7 M434.1,706.5 H443.1 M434.1,716.7 H443.1" stroke="#ff7f0f" stroke-width="2.4" fill="none"/>
<rect x="434.9" y="707.9" width="7.4" height="7.4" fill="#ff7f0f"/>
<path d="M458.0,706.3 V717.8 M453.5,706.3 H462.5 M453.5,717.8 H462.5" stroke="#ff7f0f" stroke-width="2.4" fill="none"/>
<rect x="454.3" y="708.3" width="7.4" height="7.4" fill="#ff7f0f"/>
<path d="M477.5,710.6 V716.9 M473.0,710.6 H482.0 M473.0,716.9 H482.0" stroke="#ff7f0f" stroke-width="2.4" fill="none"/>
<rect x="473.8" y="710.0" width="7.4" height="7.4" fill="#ff7f0f"/>
<path d="M497.0,708.4 V717.9 M492.5,708.4 H501.5 M492.5,717.9 H501.5" stroke="#ff7f0f" stroke-width="2.4" fill="none"/>
<rect x="493.3" y="709.5" width="7.4" height="7.4" fill="#ff7f0f"/>
<path d="M136.1,698.2 V703.0 M132.1,698.2 H140.1 M132.1,703.0 H140.1" stroke="#0000ee" stroke-width="2.0" fill="none"/>
<polygon points="131.6,697.0 140.6,697.0 136.1,705.1" fill="#0000ee"/>
<path d="M159.5,698.6 V704.7 M155.5,698.6 H163.5 M155.5,704.7 H163.5" stroke="#0000ee" stroke-width="2.0" fill="none"/>
<polygon points="155.0,698.0 164.0,698.0 159.5,706.1" fill="#0000ee"/>
<path d="M182.9,700.5 V705.6 M178.9,700.5 H186.9 M178.9,705.6 H186.9" stroke="#0000ee" stroke-width="2.0" fill="none"/>
<polygon points="178.4,699.5 187.4,699.5 182.9,707.6" fill="#0000ee"/>
<path d="M206.2,699.4 V707.7 M202.2,699.4 H210.2 M202.2,707.7 H210.2" stroke="#0000ee" stroke-width="2.0" fill="none"/>
<polygon points="201.7,699.9 210.7,699.9 206.2,708.0" fill="#0000ee"/>
<path d="M229.6,701.6 V706.6 M225.6,701.6 H233.6 M225.6,706.6 H233.6" stroke="#0000ee" stroke-width="2.0" fill="none"/>
<polygon points="225.1,700.5 234.1,700.5 229.6,708.6" fill="#0000ee"/>
<path d="M253.0,702.8 V708.8 M249.0,702.8 H257.0 M249.0,708.8 H257.0" stroke="#0000ee" stroke-width="2.0" fill="none"/>
<polygon points="248.5,702.2 257.5,702.2 253.0,710.3" fill="#0000ee"/>
<path d="M276.3,704.4 V709.0 M272.3,704.4 H280.3 M272.3,709.0 H280.3" stroke="#0000ee" stroke-width="2.0" fill="none"/>
<polygon points="271.8,703.1 280.8,703.1 276.3,711.2" fill="#0000ee"/>
<path d="M299.7,704.6 V708.5 M295.7,704.6 H303.7 M295.7,708.5 H303.7" stroke="#0000ee" stroke-width="2.0" fill="none"/>
<polygon points="295.2,702.9 304.2,702.9 299.7,711.0" fill="#0000ee"/>
<path d="M323.1,704.5 V710.0 M319.1,704.5 H327.1 M319.1,710.0 H327.1" stroke="#0000ee" stroke-width="2.0" fill="none"/>
<polygon points="318.6,703.7 327.6,703.7 323.1,711.8" fill="#0000ee"/>
<path d="M346.4,703.4 V711.0 M342.4,703.4 H350.4 M342.4,711.0 H350.4" stroke="#0000ee" stroke-width="2.0" fill="none"/>
<polygon points="341.9,703.6 350.9,703.6 346.4,711.7" fill="#0000ee"/>
<path d="M369.8,704.1 V711.4 M365.8,704.1 H373.8 M365.8,711.4 H373.8" stroke="#0000ee" stroke-width="2.0" fill="none"/>
<polygon points="365.3,704.2 374.3,704.2 369.8,712.3" fill="#0000ee"/>
<path d="M393.1,705.5 V712.8 M389.1,705.5 H397.1 M389.1,712.8 H397.1" stroke="#0000ee" stroke-width="2.0" fill="none"/>
<polygon points="388.6,705.5 397.6,705.5 393.1,713.6" fill="#0000ee"/>
<path d="M416.5,706.3 V713.0 M412.5,706.3 H420.5 M412.5,713.0 H420.5" stroke="#0000ee" stroke-width="2.0" fill="none"/>
<polygon points="412.0,706.1 421.0,706.1 416.5,714.2" fill="#0000ee"/>
<path d="M439.9,707.1 V713.1 M435.9,707.1 H443.9 M435.9,713.1 H443.9" stroke="#0000ee" stroke-width="2.0" fill="none"/>
<polygon points="435.4,706.5 444.4,706.5 439.9,714.6" fill="#0000ee"/>
<path d="M463.2,708.8 V713.6 M459.2,708.8 H467.2 M459.2,713.6 H467.2" stroke="#0000ee" stroke-width="2.0" fill="none"/>
<polygon points="458.7,707.6 467.7,707.6 463.2,715.7" fill="#0000ee"/>
<path d="M486.6,706.6 V711.4 M482.6,706.6 H490.6 M482.6,711.4 H490.6" stroke="#0000ee" stroke-width="2.0" fill="none"/>
<polygon points="482.1,705.4 491.1,705.4 486.6,713.5" fill="#0000ee"/>
<path d="M140.0,692.5 V700.3 M135.5,692.5 H144.5 M135.5,700.3 H144.5" stroke="#7f7f00" stroke-width="2.4" fill="none"/>
<rect x="136.3" y="692.7" width="7.4" height="7.4" fill="#7f7f00"/>
<path d="M162.8,692.7 V699.6 M158.3,692.7 H167.3 M158.3,699.6 H167.3" stroke="#7f7f00" stroke-width="2.4" fill="none"/>
<rect x="159.0" y="692.4" width="7.4" height="7.4" fill="#7f7f00"/>
<path d="M172.5,694.1 V698.7 M168.0,694.1 H177.0 M168.0,698.7 H177.0" stroke="#7f7f00" stroke-width="2.4" fill="none"/>
<rect x="168.8" y="692.7" width="7.4" height="7.4" fill="#7f7f00"/>
<path d="M195.2,695.1 V700.4 M190.7,695.1 H199.7 M190.7,700.4 H199.7" stroke="#7f7f00" stroke-width="2.4" fill="none"/>
<rect x="191.5" y="694.0" width="7.4" height="7.4" fill="#7f7f00"/>
<path d="M204.9,695.0 V699.8 M200.4,695.0 H209.4 M200.4,699.8 H209.4" stroke="#7f7f00" stroke-width="2.4" fill="none"/>
<rect x="201.2" y="693.7" width="7.4" height="7.4" fill="#7f7f00"/>
<path d="M227.7,693.6 V700.9 M223.2,693.6 H232.2 M223.2,700.9 H232.2" stroke="#7f7f00" stroke-width="2.4" fill="none"/>
<rect x="223.9" y="693.6" width="7.4" height="7.4" fill="#7f7f00"/>
<path d="M237.4,692.3 V701.8 M232.9,692.3 H241.9 M232.9,701.8 H241.9" stroke="#7f7f00" stroke-width="2.4" fill="none"/>
<rect x="233.7" y="693.3" width="7.4" height="7.4" fill="#7f7f00"/>
<path d="M260.1,691.9 V699.1 M255.6,691.9 H264.6 M255.6,699.1 H264.6" stroke="#7f7f00" stroke-width="2.4" fill="none"/>
<rect x="256.4" y="691.8" width="7.4" height="7.4" fill="#7f7f00"/>
<path d="M269.8,692.5 V698.2 M265.3,692.5 H274.3 M265.3,698.2 H274.3" stroke="#7f7f00" stroke-width="2.4" fill="none"/>
<rect x="266.1" y="691.6" width="7.4" height="7.4" fill="#7f7f00"/>
<path d="M292.6,690.1 V699.0 M288.1,690.1 H297.1 M288.1,699.0 H297.1" stroke="#7f7f00" stroke-width="2.4" fill="none"/>
<rect x="288.8" y="690.8" width="7.4" height="7.4" fill="#7f7f00"/>
<path d="M302.3,691.6 V698.5 M297.8,691.6 H306.8 M297.8,698.5 H306.8" stroke="#7f7f00" stroke-width="2.4" fill="none"/>
<rect x="298.6" y="691.3" width="7.4" height="7.4" fill="#7f7f00"/>
<path d="M325.0,690.4 V698.7 M320.5,690.4 H329.5 M320.5,698.7 H329.5" stroke="#7f7f00" stroke-width="2.4" fill="none"/>
<rect x="321.3" y="690.8" width="7.4" height="7.4" fill="#7f7f00"/>
<path d="M334.7,690.3 V699.6 M330.2,690.3 H339.2 M330.2,699.6 H339.2" stroke="#7f7f00" stroke-width="2.4" fill="none"/>
<rect x="331.0" y="691.2" width="7.4" height="7.4" fill="#7f7f00"/>
<path d="M357.5,691.7 V698.0 M353.0,691.7 H362.0 M353.0,698.0 H362.0" stroke="#7f7f00" stroke-width="2.4" fill="none"/>
<rect x="353.7" y="691.1" width="7.4" height="7.4" fill="#7f7f00"/>
<path d="M367.2,692.4 V697.6 M362.7,692.4 H371.7 M362.7,697.6 H371.7" stroke="#7f7f00" stroke-width="2.4" fill="none"/>
<rect x="363.5" y="691.3" width="7.4" height="7.4" fill="#7f7f00"/>
<path d="M389.9,691.7 V699.9 M385.4,691.7 H394.4 M385.4,699.9 H394.4" stroke="#7f7f00" stroke-width="2.4" fill="none"/>
<rect x="386.2" y="692.1" width="7.4" height="7.4" fill="#7f7f00"/>
<path d="M399.6,689.3 V698.9 M395.1,689.3 H404.1 M395.1,698.9 H404.1" stroke="#7f7f00" stroke-width="2.4" fill="none"/>
<rect x="395.9" y="690.4" width="7.4" height="7.4" fill="#7f7f00"/>
<path d="M422.4,690.1 V697.3 M417.9,690.1 H426.9 M417.9,697.3 H426.9" stroke="#7f7f00" stroke-width="2.4" fill="none"/>
<rect x="418.6" y="690.0" width="7.4" height="7.4" fill="#7f7f00"/>
<path d="M432.1,692.3 V699.2 M427.6,692.3 H436.6 M427.6,699.2 H436.6" stroke="#7f7f00" stroke-width="2.4" fill="none"/>
<rect x="428.4" y="692.1" width="7.4" height="7.4" fill="#7f7f00"/>
<path d="M454.8,689.0 V697.5 M450.3,689.0 H459.3 M450.3,697.5 H459.3" stroke="#7f7f00" stroke-width="2.4" fill="none"/>
<rect x="451.1" y="689.5" width="7.4" height="7.4" fill="#7f7f00"/>
<path d="M464.5,691.0 V697.8 M460.0,691.0 H469.0 M460.0,697.8 H469.0" stroke="#7f7f00" stroke-width="2.4" fill="none"/>
<rect x="460.8" y="690.7" width="7.4" height="7.4" fill="#7f7f00"/>
<path d="M487.3,692.4 V697.6 M482.8,692.4 H491.8 M482.8,697.6 H491.8" stroke="#7f7f00" stroke-width="2.4" fill="none"/>
<rect x="483.5" y="691.3" width="7.4" height="7.4" fill="#7f7f00"/>
<path d="M497.0,690.7 V699.9 M492.5,690.7 H501.5 M492.5,699.9 H501.5" stroke="#7f7f00" stroke-width="2.4" fill="none"/>
<rect x="493.3" y="691.6" width="7.4" height="7.4" fill="#7f7f00"/>
<path d="M127.1,695.6 V698.2 M124.1,695.6 H130.1 M124.1,698.2 H130.1" stroke="#0f7f0f" stroke-width="1.6" fill="none"/>
<circle cx="127.1" cy="696.9" r="4.0" fill="none" stroke="#0f7f0f" stroke-width="1.8"/>
<path d="M146.5,696.4 V698.7 M143.5,696.4 H149.5 M143.5,698.7 H149.5" stroke="#0f7f0f" stroke-width="1.6" fill="none"/>
<circle cx="146.5" cy="697.6" r="4.0" fill="none" stroke="#0f7f0f" stroke-width="1.8"/>
<path d="M166.0,695.9 V700.5 M163.0,695.9 H169.0 M163.0,700.5 H169.0" stroke="#0f7f0f" stroke-width="1.6" fill="none"/>
<circle cx="166.0" cy="698.2" r="4.0" fill="none" stroke="#0f7f0f" stroke-width="1.8"/>
<path d="M185.5,695.2 V698.9 M182.5,695.2 H188.5 M182.5,698.9 H188.5" stroke="#0f7f0f" stroke-width="1.6" fill="none"/>
<circle cx="185.5" cy="697.1" r="4.0" fill="none" stroke="#0f7f0f" stroke-width="1.8"/>
<path d="M204.9,696.0 V700.4 M201.9,696.0 H207.9 M201.9,700.4 H207.9" stroke="#0f7f0f" stroke-width="1.6" fill="none"/>
<circle cx="204.9" cy="698.2" r="4.0" fill="none" stroke="#0f7f0f" stroke-width="1.8"/>
<path d="M224.4,694.5 V698.1 M221.4,694.5 H227.4 M221.4,698.1 H227.4" stroke="#0f7f0f" stroke-width="1.6" fill="none"/>
<circle cx="224.4" cy="696.3" r="4.0" fill="none" stroke="#0f7f0f" stroke-width="1.8"/>
<path d="M243.9,697.7 V700.0 M240.9,697.7 H246.9 M240.9,700.0 H246.9" stroke="#0f7f0f" stroke-width="1.6" fill="none"/>
<circle cx="243.9" cy="698.9" r="4.0" fill="none" stroke="#0f7f0f" stroke-width="1.8"/>
<path d="M263.3,696.2 V701.6 M260.3,696.2 H266.3 M260.3,701.6 H266.3" stroke="#0f7f0f" stroke-width="1.6" fill="none"/>
<circle cx="263.3" cy="698.9" r="4.0" fill="none" stroke="#0f7f0f" stroke-width="1.8"/>
<path d="M282.8,695.2 V700.2 M279.8,695.2 H285.8 M279.8,700.2 H285.8" stroke="#0f7f0f" stroke-width="1.6" fill="none"/>
<circle cx="282.8" cy="697.7" r="4.0" fill="none" stroke="#0f7f0f" stroke-width="1.8"/>
<path d="M302.3,697.3 V700.3 M299.3,697.3 H305.3 M299.3,700.3 H305.3" stroke="#0f7f0f" stroke-width="1.6" fill="none"/>
<circle cx="302.3" cy="698.8" r="4.0" fill="none" stroke="#0f7f0f" stroke-width="1.8"/>
<path d="M321.8,694.8 V700.0 M318.8,694.8 H324.8 M318.8,700.0 H324.8" stroke="#0f7f0f" stroke-width="1.6" fill="none"/>
<circle cx="321.8" cy="697.4" r="4.0" fill="none" stroke="#0f7f0f" stroke-width="1.8"/>
<path d="M341.2,697.3 V699.6 M338.2,697.3 H344.2 M338.2,699.6 H344.2" stroke="#0f7f0f" stroke-width="1.6" fill="none"/>
<circle cx="341.2" cy="698.5" r="4.0" fill="none" stroke="#0f7f0f" stroke-width="1.8"/>
<path d="M360.7,695.5 V698.6 M357.7,695.5 H363.7 M357.7,698.6 H363.7" stroke="#0f7f0f" stroke-width="1.6" fill="none"/>
<circle cx="360.7" cy="697.1" r="4.0" fill="none" stroke="#0f7f0f" stroke-width="1.8"/>
<path d="M380.2,696.2 V698.8 M377.2,696.2 H383.2 M377.2,698.8 H383.2" stroke="#0f7f0f" stroke-width="1.6" fill="none"/>
<circle cx="380.2" cy="697.5" r="4.0" fill="none" stroke="#0f7f0f" stroke-width="1.8"/>
<path d="M399.6,695.2 V700.2 M396.6,695.2 H402.6 M396.6,700.2 H402.6" stroke="#0f7f0f" stroke-width="1.6" fill="none"/>
<circle cx="399.6" cy="697.7" r="4.0" fill="none" stroke="#0f7f0f" stroke-width="1.8"/>
<path d="M419.1,696.0 V699.3 M416.1,696.0 H422.1 M416.1,699.3 H422.1" stroke="#0f7f0f" stroke-width="1.6" fill="none"/>
<circle cx="419.1" cy="697.7" r="4.0" fill="none" stroke="#0f7f0f" stroke-width="1.8"/>
<path d="M438.6,696.4 V699.0 M435.6,696.4 H441.6 M435.6,699.0 H441.6" stroke="#0f7f0f" stroke-width="1.6" fill="none"/>
<circle cx="438.6" cy="697.7" r="4.0" fill="none" stroke="#0f7f0f" stroke-width="1.8"/>
<path d="M458.0,697.2 V700.7 M455.0,697.2 H461.0 M455.0,700.7 H461.0" stroke="#0f7f0f" stroke-width="1.6" fill="none"/>
<circle cx="458.0" cy="699.0" r="4.0" fill="none" stroke="#0f7f0f" stroke-width="1.8"/>
<path d="M477.5,696.1 V698.8 M474.5,696.1 H480.5 M474.5,698.8 H480.5" stroke="#0f7f0f" stroke-width="1.6" fill="none"/>
<circle cx="477.5" cy="697.5" r="4.0" fill="none" stroke="#0f7f0f" stroke-width="1.8"/>
<path d="M497.0,695.1 V700.0 M494.0,695.1 H500.0 M494.0,700.0 H500.0" stroke="#0f7f0f" stroke-width="1.6" fill="none"/>
<circle cx="497.0" cy="697.5" r="4.0" fill="none" stroke="#0f7f0f" stroke-width="1.8"/>
<path d="M107.6,694.7 L112.6,697.9 L117.7,701.0 L122.7,704.0 L127.7,706.9 L132.8,709.7 L137.8,712.4 L142.8,715.0 L147.9,717.5 L152.9,719.9 L157.9,722.3 L163.0,724.5 L168.0,726.7 L173.1,728.9 L178.1,730.9 L183.1,732.9 L188.2,734.8 L193.2,736.6 L198.2,738.4 L203.3,740.1 L208.3,741.8 L213.3,743.4 L218.4,744.9 L223.4,746.4 L228.4,747.9 L233.5,749.2 L238.5,750.6 L243.6,751.9 L248.6,753.2 L253.6,754.4 L258.7,755.5 L263.7,756.7 L268.7,757.8 L273.8,758.8 L278.8,759.8 L283.8,760.8 L288.9,761.8 L293.9,762.7 L299.0,763.6 L304.0,764.4 L309.0,765.3 L314.1,766.1 L319.1,766.8 L324.1,767.6 L329.2,768.3 L334.2,769.0 L339.2,769.7 L344.3,770.3 L349.3,770.9 L354.3,771.6 L359.4,772.1 L364.4,772.7 L369.5,773.2 L374.5,773.8 L379.5,774.3 L384.6,774.8 L389.6,775.3 L394.6,775.7 L399.7,776.2 L404.7,776.6 L409.7,777.0 L414.8,777.4 L419.8,777.8 L424.9,778.2 L429.9,778.5 L434.9,778.9 L440.0,779.2 L445.0,779.5 L450.0,779.8 L455.1,780.1 L460.1,780.4 L465.1,780.7 L470.2,781.0 L475.2,781.2 L480.2,781.5 L485.3,781.7 L490.3,782.0 L495.4,782.2 L500.4,782.4 L505.4,782.6" fill="none" stroke="#f010f0" stroke-width="2"/>
<path d="M103.1,698.6 H112.1 M103.1,695.1 V702.1 M112.1,695.1 V702.1" stroke="#f010f0" stroke-width="1.6" fill="none"/>
<polygon points="112.1,692.9 112.1,704.3 101.9,698.6" fill="#f010f0"/>
<path d="M121.0,703.1 H130.0 M121.0,699.6 V706.6 M130.0,699.6 V706.6" stroke="#f010f0" stroke-width="1.6" fill="none"/>
<polygon points="130.1,697.4 130.1,708.8 119.8,703.1" fill="#f010f0"/>
<path d="M141.7,715.7 H150.7 M141.7,712.2 V719.2 M150.7,712.2 V719.2" stroke="#f010f0" stroke-width="1.6" fill="none"/>
<polygon points="150.8,710.0 150.8,721.4 140.5,715.7" fill="#f010f0"/>
<path d="M162.8,723.4 H171.8 M162.8,719.9 V726.9 M171.8,719.9 V726.9" stroke="#f010f0" stroke-width="1.6" fill="none"/>
<polygon points="171.9,717.7 171.9,729.1 161.6,723.4" fill="#f010f0"/>
<path d="M182.0,732.1 H191.0 M182.0,728.6 V735.6 M191.0,728.6 V735.6" stroke="#f010f0" stroke-width="1.6" fill="none"/>
<polygon points="191.1,726.4 191.1,737.8 180.8,732.1" fill="#f010f0"/>
<path d="M201.5,741.9 H210.5 M201.5,738.4 V745.4 M210.5,738.4 V745.4" stroke="#f010f0" stroke-width="1.6" fill="none"/>
<polygon points="210.5,736.2 210.5,747.6 200.3,741.9" fill="#f010f0"/>
<path d="M221.4,748.9 H230.4 M221.4,745.4 V752.4 M230.4,745.4 V752.4" stroke="#f010f0" stroke-width="1.6" fill="none"/>
<polygon points="230.5,743.2 230.5,754.6 220.2,748.9" fill="#f010f0"/>
<path d="M240.9,753.7 H249.9 M240.9,750.2 V757.2 M249.9,750.2 V757.2" stroke="#f010f0" stroke-width="1.6" fill="none"/>
<polygon points="249.9,748.0 249.9,759.4 239.7,753.7" fill="#f010f0"/>
<path d="M259.5,757.6 H268.5 M259.5,754.1 V761.1 M268.5,754.1 V761.1" stroke="#f010f0" stroke-width="1.6" fill="none"/>
<polygon points="268.6,751.9 268.6,763.3 258.3,757.6" fill="#f010f0"/>
<path d="M279.6,763.2 H288.6 M279.6,759.7 V766.7 M288.6,759.7 V766.7" stroke="#f010f0" stroke-width="1.6" fill="none"/>
<polygon points="288.7,757.5 288.7,768.9 278.4,763.2" fill="#f010f0"/>
<path d="M298.8,764.2 H307.8 M298.8,760.7 V767.7 M307.8,760.7 V767.7" stroke="#f010f0" stroke-width="1.6" fill="none"/>
<polygon points="307.9,758.5 307.9,769.9 297.6,764.2" fill="#f010f0"/>
<path d="M317.9,764.2 H326.9 M317.9,760.7 V767.7 M326.9,760.7 V767.7" stroke="#f010f0" stroke-width="1.6" fill="none"/>
<polygon points="327.0,758.5 327.0,769.9 316.7,764.2" fill="#f010f0"/>
<path d="M337.4,769.4 H346.4 M337.4,765.9 V772.9 M346.4,765.9 V772.9" stroke="#f010f0" stroke-width="1.6" fill="none"/>
<polygon points="346.4,763.7 346.4,775.1 336.2,769.4" fill="#f010f0"/>
<path d="M357.5,772.9 H366.5 M357.5,769.4 V776.4 M366.5,769.4 V776.4" stroke="#f010f0" stroke-width="1.6" fill="none"/>
<polygon points="366.6,767.2 366.6,778.6 356.3,772.9" fill="#f010f0"/>
<path d="M376.7,776.1 H385.7 M376.7,772.6 V779.6 M385.7,772.6 V779.6" stroke="#f010f0" stroke-width="1.6" fill="none"/>
<polygon points="385.8,770.4 385.8,781.8 375.5,776.1" fill="#f010f0"/>
<path d="M396.2,777.1 H405.2 M396.2,773.6 V780.6 M405.2,773.6 V780.6" stroke="#f010f0" stroke-width="1.6" fill="none"/>
<polygon points="405.2,771.4 405.2,782.8 395.0,777.1" fill="#f010f0"/>
<path d="M416.4,779.2 H425.4 M416.4,775.7 V782.7 M425.4,775.7 V782.7" stroke="#f010f0" stroke-width="1.6" fill="none"/>
<polygon points="425.5,773.5 425.5,784.9 415.2,779.2" fill="#f010f0"/>
<path d="M435.0,779.9 H444.0 M435.0,776.4 V783.4 M444.0,776.4 V783.4" stroke="#f010f0" stroke-width="1.6" fill="none"/>
<polygon points="444.0,774.2 444.0,785.6 433.8,779.9" fill="#f010f0"/>
<path d="M455.1,779.9 H464.1 M455.1,776.4 V783.4 M464.1,776.4 V783.4" stroke="#f010f0" stroke-width="1.6" fill="none"/>
<polygon points="464.2,774.2 464.2,785.6 453.9,779.9" fill="#f010f0"/>
<path d="M474.7,779.9 H483.7 M474.7,776.4 V783.4 M483.7,776.4 V783.4" stroke="#f010f0" stroke-width="1.6" fill="none"/>
<polygon points="483.8,774.2 483.8,785.6 473.5,779.9" fill="#f010f0"/>
<path d="M494.8,780.6 H503.8 M494.8,777.1 V784.1 M503.8,777.1 V784.1" stroke="#f010f0" stroke-width="1.6" fill="none"/>
<polygon points="503.9,774.9 503.9,786.3 493.6,780.6" fill="#f010f0"/>
<path d="M107.6,701.2 L112.6,709.2 L117.7,717.0 L122.7,724.4 L127.7,731.7 L132.8,738.6 L137.8,745.3 L142.8,751.8 L147.9,758.1 L152.9,764.1 L157.9,770.0 L163.0,775.6 L168.0,781.0 L173.1,786.3 L178.1,791.3 L183.1,796.2 L188.2,800.9 L193.2,805.5 L198.2,809.9 L203.3,814.1 L208.3,818.2 L213.3,822.2 L218.4,826.0 L223.4,829.7 L228.4,833.2 L233.5,836.7 L238.5,840.0 L243.6,843.2 L248.6,846.3 L253.6,849.3 L258.7,852.1 L263.7,854.9 L268.7,857.6 L273.8,860.2 L278.8,862.7 L283.8,865.1 L288.9,867.4 L293.9,869.6 L299.0,871.8 L304.0,873.9 L309.0,875.9 L314.1,877.9 L319.1,879.8 L324.1,881.6 L329.2,883.3 L334.2,885.0 L339.2,886.7 L344.3,888.2 L349.3,889.8 L354.3,891.2 L359.4,892.6 L364.4,894.0 L369.5,895.3 L374.5,896.6 L379.5,897.8 L384.6,899.0 L389.6,900.2 L394.6,901.3 L399.7,902.3 L404.7,903.4 L409.7,904.4 L414.8,905.3 L419.8,906.3 L424.9,907.2 L429.9,908.0 L434.9,908.9 L440.0,909.7 L445.0,910.4 L450.0,911.2 L455.1,911.9 L460.1,912.6 L465.1,913.3 L470.2,913.9 L475.2,914.6 L480.2,915.2 L485.3,915.8 L490.3,916.3 L495.4,916.9 L500.4,917.4 L505.4,917.9" fill="none" stroke="#10f0f0" stroke-width="2"/>
<path d="M102.6,698.6 H112.6 M102.6,695.1 V702.1 M112.6,695.1 V702.1" stroke="#10f0f0" stroke-width="1.6" fill="none"/>
<polygon points="107.6,692.9 113.3,698.6 107.6,704.3 101.9,698.6" fill="#10f0f0"/>
<path d="M128.8,739.8 H138.8 M128.8,736.3 V743.3 M138.8,736.3 V743.3" stroke="#10f0f0" stroke-width="1.6" fill="none"/>
<polygon points="133.8,734.1 139.5,739.8 133.8,745.5 128.1,739.8" fill="#10f0f0"/>
<path d="M155.2,775.0 H165.2 M155.2,771.5 V778.5 M165.2,771.5 V778.5" stroke="#10f0f0" stroke-width="1.6" fill="none"/>
<polygon points="160.2,769.3 165.9,775.0 160.2,780.7 154.5,775.0" fill="#10f0f0"/>
<path d="M181.5,803.3 H191.5 M181.5,799.8 V806.8 M191.5,799.8 V806.8" stroke="#10f0f0" stroke-width="1.6" fill="none"/>
<polygon points="186.5,797.6 192.2,803.3 186.5,809.0 180.8,803.3" fill="#10f0f0"/>
<path d="M207.2,823.5 H217.2 M207.2,820.0 V827.0 M217.2,820.0 V827.0" stroke="#10f0f0" stroke-width="1.6" fill="none"/>
<polygon points="212.2,817.8 217.9,823.5 212.2,829.2 206.5,823.5" fill="#10f0f0"/>
<path d="M233.3,839.6 H243.3 M233.3,836.1 V843.1 M243.3,836.1 V843.1" stroke="#10f0f0" stroke-width="1.6" fill="none"/>
<polygon points="238.3,833.9 244.0,839.6 238.3,845.3 232.6,839.6" fill="#10f0f0"/>
<path d="M259.3,853.6 H269.3 M259.3,850.1 V857.1 M269.3,850.1 V857.1" stroke="#10f0f0" stroke-width="1.6" fill="none"/>
<polygon points="264.3,847.9 270.0,853.6 264.3,859.3 258.6,853.6" fill="#10f0f0"/>
<path d="M285.3,865.1 H295.3 M285.3,861.6 V868.6 M295.3,861.6 V868.6" stroke="#10f0f0" stroke-width="1.6" fill="none"/>
<polygon points="290.3,859.4 296.0,865.1 290.3,870.8 284.6,865.1" fill="#10f0f0"/>
<path d="M312.1,875.2 H322.1 M312.1,871.7 V878.7 M322.1,871.7 V878.7" stroke="#10f0f0" stroke-width="1.6" fill="none"/>
<polygon points="317.1,869.5 322.8,875.2 317.1,880.9 311.4,875.2" fill="#10f0f0"/>
<path d="M338.5,887.8 H348.5 M338.5,884.3 V891.3 M348.5,884.3 V891.3" stroke="#10f0f0" stroke-width="1.6" fill="none"/>
<polygon points="343.5,882.1 349.2,887.8 343.5,893.5 337.8,887.8" fill="#10f0f0"/>
<path d="M363.9,892.6 H373.9 M363.9,889.1 V896.1 M373.9,889.1 V896.1" stroke="#10f0f0" stroke-width="1.6" fill="none"/>
<polygon points="368.9,886.9 374.6,892.6 368.9,898.3 363.2,892.6" fill="#10f0f0"/>
<path d="M389.6,901.7 H399.6 M389.6,898.2 V905.2 M399.6,898.2 V905.2" stroke="#10f0f0" stroke-width="1.6" fill="none"/>
<polygon points="394.6,896.0 400.3,901.7 394.6,907.4 388.9,901.7" fill="#10f0f0"/>
<path d="M416.0,908.7 H426.0 M416.0,905.2 V912.2 M426.0,905.2 V912.2" stroke="#10f0f0" stroke-width="1.6" fill="none"/>
<polygon points="421.0,903.0 426.7,908.7 421.0,914.4 415.3,908.7" fill="#10f0f0"/>
<path d="M441.7,911.8 H451.7 M441.7,908.3 V915.3 M451.7,908.3 V915.3" stroke="#10f0f0" stroke-width="1.6" fill="none"/>
<polygon points="446.7,906.1 452.4,911.8 446.7,917.5 441.0,911.8" fill="#10f0f0"/>
<path d="M468.1,916.0 H478.1 M468.1,912.5 V919.5 M478.1,912.5 V919.5" stroke="#10f0f0" stroke-width="1.6" fill="none"/>
<polygon points="473.1,910.3 478.8,916.0 473.1,921.7 467.4,916.0" fill="#10f0f0"/>
<path d="M494.4,917.4 H504.4 M494.4,913.9 V920.9 M504.4,913.9 V920.9" stroke="#10f0f0" stroke-width="1.6" fill="none"/>
<polygon points="499.4,911.7 505.1,917.4 499.4,923.1 493.7,917.4" fill="#10f0f0"/>
<path d="M107.6,698.6 L108.6,712.6 L110.8,855.6 L112.8,901.0 L115.1,925.1 L119.3,946.4 L122.9,959.3 L127.6,974.7 L132.2,983.0 L138.7,986.5 L145.2,987.6 L505.4,987.6" fill="none" stroke="#14807a" stroke-width="2.2"/>
<path d="M108.4,698.6 L109.4,712.6 L111.6,855.6 L113.6,901.0 L115.9,925.1 L120.1,946.4 L123.7,959.3 L128.4,974.7 L133.1,983.0 L139.5,986.5 L146.0,987.6 L506.2,987.6" fill="none" stroke="#7a1fe8" stroke-width="2"/>
<circle cx="107.6" cy="698.6" r="5.7" fill="#14807a"/>
<circle cx="127.1" cy="976.4" r="5.7" fill="#14807a"/>
<circle cx="146.5" cy="986.6" r="5.7" fill="#14807a"/>
<circle cx="166.0" cy="987.6" r="5.7" fill="#14807a"/>
<circle cx="204.9" cy="987.9" r="5.7" fill="#14807a"/>
<circle cx="224.4" cy="986.8" r="5.7" fill="#14807a"/>
<circle cx="243.9" cy="986.6" r="5.7" fill="#14807a"/>
<circle cx="282.8" cy="987.4" r="5.7" fill="#14807a"/>
<circle cx="302.3" cy="987.8" r="5.7" fill="#14807a"/>
<circle cx="321.8" cy="986.8" r="5.7" fill="#14807a"/>
<circle cx="360.7" cy="988.1" r="5.7" fill="#14807a"/>
<circle cx="380.2" cy="987.9" r="5.7" fill="#14807a"/>
<circle cx="399.6" cy="986.8" r="5.7" fill="#14807a"/>
<circle cx="438.6" cy="987.7" r="5.7" fill="#14807a"/>
<circle cx="458.0" cy="987.8" r="5.7" fill="#14807a"/>
<circle cx="477.5" cy="987.5" r="5.7" fill="#14807a"/>
<circle cx="497.0" cy="987.3" r="5.7" fill="#14807a"/>
<polygon points="108.2,692.9 113.9,698.6 108.2,704.3 102.6,698.6" fill="none" stroke="#7a1fe8" stroke-width="2.1"/>
<polygon points="134.2,975.6 139.9,981.3 134.2,987.0 128.5,981.3" fill="none" stroke="#7a1fe8" stroke-width="2.1"/>
<polygon points="160.2,981.2 165.8,986.9 160.2,992.5 154.5,986.9" fill="none" stroke="#7a1fe8" stroke-width="2.1"/>
<polygon points="186.1,981.2 191.8,986.9 186.1,992.5 180.4,986.9" fill="#7a3ad8" stroke="#7a1fe8" stroke-width="2.1"/>
<polygon points="212.1,981.2 217.7,986.9 212.1,992.5 206.4,986.9" fill="none" stroke="#7a1fe8" stroke-width="2.1"/>
<polygon points="238.0,981.2 243.7,986.9 238.0,992.5 232.4,986.9" fill="none" stroke="#7a1fe8" stroke-width="2.1"/>
<polygon points="264.0,981.2 269.7,986.9 264.0,992.5 258.3,986.9" fill="#7a3ad8" stroke="#7a1fe8" stroke-width="2.1"/>
<polygon points="290.0,981.2 295.6,986.9 290.0,992.5 284.3,986.9" fill="none" stroke="#7a1fe8" stroke-width="2.1"/>
<polygon points="315.9,981.2 321.6,986.9 315.9,992.5 310.2,986.9" fill="none" stroke="#7a1fe8" stroke-width="2.1"/>
<polygon points="341.9,981.2 347.5,986.9 341.9,992.5 336.2,986.9" fill="#7a3ad8" stroke="#7a1fe8" stroke-width="2.1"/>
<polygon points="367.8,981.2 373.5,986.9 367.8,992.5 362.2,986.9" fill="none" stroke="#7a1fe8" stroke-width="2.1"/>
<polygon points="393.8,981.2 399.5,986.9 393.8,992.5 388.1,986.9" fill="none" stroke="#7a1fe8" stroke-width="2.1"/>
<polygon points="419.8,981.2 425.4,986.9 419.8,992.5 414.1,986.9" fill="#7a3ad8" stroke="#7a1fe8" stroke-width="2.1"/>
<polygon points="445.7,981.2 451.4,986.9 445.7,992.5 440.0,986.9" fill="none" stroke="#7a1fe8" stroke-width="2.1"/>
<polygon points="471.7,981.2 477.3,986.9 471.7,992.5 466.0,986.9" fill="none" stroke="#7a1fe8" stroke-width="2.1"/>
<polygon points="497.6,981.2 503.3,986.9 497.6,992.5 492.0,986.9" fill="#7a3ad8" stroke="#7a1fe8" stroke-width="2.1"/>
<rect x="102.2" y="693.2" width="10.8" height="10.8" fill="#a040c0"/>
<polygon points="111.9,693.2 111.9,704.0 102.2,698.6" fill="#f010f0"/>
</g>
<defs><clipPath id="cd"><rect x="641" y="697.5" width="400" height="313"/></clipPath></defs>
<g clip-path="url(#cd)">
<path d="M640.0,1002.5 L1023.6,1011.1" stroke="#7f1f7f" stroke-width="2" fill="none"/>
<path d="M640.0,1003.5 L1023.6,1003.9" stroke="#ee10ee" stroke-width="2" fill="none"/>
<path d="M640.0,1002.5 L1023.6,1002.5" stroke="#000" stroke-width="2.2" fill="none"/>
<path d="M640.0,1002.5 L1023.6,1002.1" stroke="#f77f10" stroke-width="1.6" fill="none" stroke-dasharray="10 6"/>
<path d="M641.3,1004.0 L643.8,1002.9 L646.4,1001.9 L648.9,1000.9 L651.5,1000.0 L654.1,999.1 L656.6,998.3 L659.2,997.6 L661.8,996.9 L664.3,996.2 L666.9,995.6 L669.4,995.0 L672.0,994.4 L674.6,993.9 L677.1,993.4 L679.7,992.9 L682.2,992.5 L684.8,992.1 L687.4,991.7 L689.9,991.3 L692.5,991.0 L695.1,990.7 L697.6,990.4 L700.2,990.1 L702.7,989.8 L705.3,989.6 L707.9,989.4 L710.4,989.1 L713.0,988.9 L715.5,988.7 L718.1,988.5 L720.7,988.4 L723.2,988.2 L725.8,988.1 L728.4,987.9 L730.9,987.8 L733.5,987.7 L736.0,987.5 L738.6,987.4 L741.2,987.3 L743.7,987.2 L746.3,987.1 L748.9,987.0 L751.4,987.0 L754.0,986.9 L756.5,986.8 L759.1,986.7 L761.7,986.7 L764.2,986.6 L766.8,986.6 L769.3,986.5 L771.9,986.5 L774.5,986.4 L777.0,986.4 L779.6,986.3 L782.2,986.3 L784.7,986.2 L787.3,986.2 L789.8,986.2 L792.4,986.1 L795.0,986.1 L797.5,986.1 L800.1,986.1 L802.6,986.0 L805.2,986.0 L807.8,986.0 L810.3,986.0 L812.9,986.0 L815.5,985.9 L818.0,985.9 L820.6,985.9 L823.1,985.9 L825.7,985.9 L828.3,985.9 L830.8,985.9 L833.4,985.8 L835.9,985.8 L838.5,985.8 L841.1,985.8 L843.6,985.8 L846.2,985.8 L848.8,985.8 L851.3,985.8 L853.9,985.8 L856.4,985.8 L859.0,985.8 L861.6,985.8 L864.1,985.7 L866.7,985.7 L869.2,985.7 L871.8,985.7 L874.4,985.7 L876.9,985.7 L879.5,985.7 L882.1,985.7 L884.6,985.7 L887.2,985.7 L889.7,985.7 L892.3,985.7 L894.9,985.7 L897.4,985.7 L900.0,985.7 L902.5,985.7 L905.1,985.7 L907.7,985.7 L910.2,985.7 L912.8,985.7 L915.4,985.7 L917.9,985.7 L920.5,985.7 L923.0,985.7 L925.6,985.7 L928.2,985.7 L930.7,985.7 L933.3,985.7 L935.8,985.7 L938.4,985.7 L941.0,985.7 L943.5,985.7 L946.1,985.7 L948.7,985.7 L951.2,985.7 L953.8,985.7 L956.3,985.7 L958.9,985.7 L961.5,985.7 L964.0,985.7 L966.6,985.7 L969.2,985.7 L971.7,985.7 L974.3,985.7 L976.8,985.7 L979.4,985.7 L982.0,985.7 L984.5,985.7 L987.1,985.7 L989.6,985.7 L992.2,985.7 L994.8,985.7 L997.3,985.7 L999.9,985.7 L1002.5,985.7 L1005.0,985.7 L1007.6,985.7 L1010.1,985.7 L1012.7,985.7 L1015.3,985.7 L1017.8,985.7 L1020.4,985.7 L1022.9,985.7" fill="none" stroke="#10ee10" stroke-width="2"/>
<path d="M641.3,1008.5 L643.8,1003.6 L646.4,998.9 L648.9,994.5 L651.5,990.2 L654.1,986.3 L656.6,982.5 L659.2,978.9 L661.8,975.5 L664.3,972.2 L666.9,969.2 L669.4,966.3 L672.0,963.5 L674.6,960.9 L677.1,958.4 L679.7,956.1 L682.2,953.8 L684.8,951.7 L687.4,949.7 L689.9,947.8 L692.5,946.0 L695.1,944.3 L697.6,942.7 L700.2,941.1 L702.7,939.7 L705.3,938.3 L707.9,937.0 L710.4,935.7 L713.0,934.5 L715.5,933.4 L718.1,932.4 L720.7,931.4 L723.2,930.4 L725.8,929.5 L728.4,928.6 L730.9,927.8 L733.5,927.0 L736.0,926.3 L738.6,925.6 L741.2,924.9 L743.7,924.3 L746.3,923.7 L748.9,923.2 L751.4,922.6 L754.0,922.1 L756.5,921.6 L759.1,921.2 L761.7,920.8 L764.2,920.3 L766.8,920.0 L769.3,919.6 L771.9,919.2 L774.5,918.9 L777.0,918.6 L779.6,918.3 L782.2,918.0 L784.7,917.7 L787.3,917.5 L789.8,917.2 L792.4,917.0 L795.0,916.8 L797.5,916.6 L800.1,916.4 L802.6,916.2 L805.2,916.0 L807.8,915.9 L810.3,915.7 L812.9,915.6 L815.5,915.4 L818.0,915.3 L820.6,915.2 L823.1,915.0 L825.7,914.9 L828.3,914.8 L830.8,914.7 L833.4,914.6 L835.9,914.5 L838.5,914.4 L841.1,914.3 L843.6,914.3 L846.2,914.2 L848.8,914.1 L851.3,914.1 L853.9,914.0 L856.4,913.9 L859.0,913.9 L861.6,913.8 L864.1,913.8 L866.7,913.7 L869.2,913.7 L871.8,913.6 L874.4,913.6 L876.9,913.5 L879.5,913.5 L882.1,913.5 L884.6,913.4 L887.2,913.4 L889.7,913.4 L892.3,913.3 L894.9,913.3 L897.4,913.3 L900.0,913.3 L902.5,913.2 L905.1,913.2 L907.7,913.2 L910.2,913.2 L912.8,913.2 L915.4,913.1 L917.9,913.1 L920.5,913.1 L923.0,913.1 L925.6,913.1 L928.2,913.1 L930.7,913.0 L933.3,913.0 L935.8,913.0 L938.4,913.0 L941.0,913.0 L943.5,913.0 L946.1,913.0 L948.7,913.0 L951.2,913.0 L953.8,913.0 L956.3,912.9 L958.9,912.9 L961.5,912.9 L964.0,912.9 L966.6,912.9 L969.2,912.9 L971.7,912.9 L974.3,912.9 L976.8,912.9 L979.4,912.9 L982.0,912.9 L984.5,912.9 L987.1,912.9 L989.6,912.9 L992.2,912.9 L994.8,912.9 L997.3,912.9 L999.9,912.9 L1002.5,912.9 L1005.0,912.9 L1007.6,912.9 L1010.1,912.9 L1012.7,912.8 L1015.3,912.8 L1017.8,912.8 L1020.4,912.8 L1022.9,912.8" fill="none" stroke="#0000cc" stroke-width="2"/>
<path d="M641.3,1005.6 L643.8,995.6 L646.4,986.3 L648.9,977.6 L651.5,969.5 L654.1,961.9 L656.6,954.8 L659.2,948.2 L661.8,942.0 L664.3,936.2 L666.9,930.8 L669.4,925.7 L672.0,920.9 L674.6,916.5 L677.1,912.3 L679.7,908.4 L682.2,904.7 L684.8,901.3 L687.4,898.1 L689.9,895.0 L692.5,892.2 L695.1,889.5 L697.6,887.0 L700.2,884.6 L702.7,882.3 L705.3,880.2 L707.9,878.2 L710.4,876.4 L713.0,874.6 L715.5,872.9 L718.1,871.3 L720.7,869.8 L723.2,868.4 L725.8,867.0 L728.4,865.7 L730.9,864.5 L733.5,863.3 L736.0,862.2 L738.6,861.2 L741.2,860.2 L743.7,859.2 L746.3,858.3 L748.9,857.4 L751.4,856.5 L754.0,855.7 L756.5,854.9 L759.1,854.2 L761.7,853.5 L764.2,852.8 L766.8,852.1 L769.3,851.5 L771.9,850.8 L774.5,850.2 L777.0,849.7 L779.6,849.1 L782.2,848.5 L784.7,848.0 L787.3,847.5 L789.8,847.0 L792.4,846.5 L795.0,846.0 L797.5,845.6 L800.1,845.1 L802.6,844.7 L805.2,844.2 L807.8,843.8 L810.3,843.4 L812.9,843.0 L815.5,842.6 L818.0,842.2 L820.6,841.8 L823.1,841.4 L825.7,841.1 L828.3,840.7 L830.8,840.4 L833.4,840.0 L835.9,839.7 L838.5,839.3 L841.1,839.0 L843.6,838.7 L846.2,838.3 L848.8,838.0 L851.3,837.7 L853.9,837.4 L856.4,837.1 L859.0,836.8 L861.6,836.5 L864.1,836.2 L866.7,835.9 L869.2,835.6 L871.8,835.3 L874.4,835.0 L876.9,834.8 L879.5,834.5 L882.1,834.2 L884.6,833.9 L887.2,833.7 L889.7,833.4 L892.3,833.2 L894.9,832.9 L897.4,832.6 L900.0,832.4 L902.5,832.1 L905.1,831.9 L907.7,831.6 L910.2,831.4 L912.8,831.2 L915.4,830.9 L917.9,830.7 L920.5,830.5 L923.0,830.2 L925.6,830.0 L928.2,829.8 L930.7,829.5 L933.3,829.3 L935.8,829.1 L938.4,828.9 L941.0,828.7 L943.5,828.4 L946.1,828.2 L948.7,828.0 L951.2,827.8 L953.8,827.6 L956.3,827.4 L958.9,827.2 L961.5,827.0 L964.0,826.8 L966.6,826.6 L969.2,826.4 L971.7,826.2 L974.3,826.0 L976.8,825.8 L979.4,825.6 L982.0,825.4 L984.5,825.2 L987.1,825.0 L989.6,824.9 L992.2,824.7 L994.8,824.5 L997.3,824.3 L999.9,824.1 L1002.5,824.0 L1005.0,823.8 L1007.6,823.6 L1010.1,823.4 L1012.7,823.3 L1015.3,823.1 L1017.8,822.9 L1020.4,822.8 L1022.9,822.6" fill="none" stroke="#10f0f0" stroke-width="2"/>
<path d="M641.3,1005.0 L643.8,994.3 L646.4,984.1 L648.9,974.4 L651.5,965.2 L654.1,956.5 L656.6,948.2 L659.2,940.3 L661.8,932.8 L664.3,925.7 L666.9,918.9 L669.4,912.4 L672.0,906.2 L674.6,900.3 L677.1,894.7 L679.7,889.4 L682.2,884.3 L684.8,879.4 L687.4,874.7 L689.9,870.2 L692.5,866.0 L695.1,861.9 L697.6,858.0 L700.2,854.2 L702.7,850.6 L705.3,847.2 L707.9,843.8 L710.4,840.7 L713.0,837.6 L715.5,834.7 L718.1,831.8 L720.7,829.1 L723.2,826.5 L725.8,824.0 L728.4,821.5 L730.9,819.2 L733.5,816.9 L736.0,814.7 L738.6,812.6 L741.2,810.6 L743.7,808.6 L746.3,806.7 L748.9,804.9 L751.4,803.1 L754.0,801.4 L756.5,799.7 L759.1,798.1 L761.7,796.5 L764.2,795.0 L766.8,793.5 L769.3,792.1 L771.9,790.7 L774.5,789.3 L777.0,788.0 L779.6,786.7 L782.2,785.5 L784.7,784.2 L787.3,783.1 L789.8,781.9 L792.4,780.8 L795.0,779.7 L797.5,778.6 L800.1,777.6 L802.6,776.6 L805.2,775.6 L807.8,774.6 L810.3,773.7 L812.9,772.8 L815.5,771.9 L818.0,771.0 L820.6,770.2 L823.1,769.3 L825.7,768.5 L828.3,767.7 L830.8,766.9 L833.4,766.2 L835.9,765.4 L838.5,764.7 L841.1,764.0 L843.6,763.3 L846.2,762.6 L848.8,761.9 L851.3,761.3 L853.9,760.7 L856.4,760.0 L859.0,759.4 L861.6,758.8 L864.1,758.2 L866.7,757.6 L869.2,757.1 L871.8,756.5 L874.4,756.0 L876.9,755.5 L879.5,754.9 L882.1,754.4 L884.6,753.9 L887.2,753.4 L889.7,753.0 L892.3,752.5 L894.9,752.0 L897.4,751.6 L900.0,751.1 L902.5,750.7 L905.1,750.3 L907.7,749.8 L910.2,749.4 L912.8,749.0 L915.4,748.6 L917.9,748.2 L920.5,747.9 L923.0,747.5 L925.6,747.1 L928.2,746.8 L930.7,746.4 L933.3,746.1 L935.8,745.7 L938.4,745.4 L941.0,745.1 L943.5,744.7 L946.1,744.4 L948.7,744.1 L951.2,743.8 L953.8,743.5 L956.3,743.2 L958.9,742.9 L961.5,742.6 L964.0,742.4 L966.6,742.1 L969.2,741.8 L971.7,741.6 L974.3,741.3 L976.8,741.1 L979.4,740.8 L982.0,740.6 L984.5,740.3 L987.1,740.1 L989.6,739.9 L992.2,739.6 L994.8,739.4 L997.3,739.2 L999.9,739.0 L1002.5,738.8 L1005.0,738.6 L1007.6,738.4 L1010.1,738.2 L1012.7,738.0 L1015.3,737.8 L1017.8,737.6 L1020.4,737.4 L1022.9,737.2" fill="none" stroke="#f010f0" stroke-width="2"/>
<path d="M641.3,1000.5 L643.8,988.8 L646.4,977.7 L648.9,967.1 L651.5,957.0 L654.1,947.3 L656.6,938.1 L659.2,929.3 L661.8,921.0 L664.3,913.0 L666.9,905.4 L669.4,898.1 L672.0,891.2 L674.6,884.5 L677.1,878.2 L679.7,872.1 L682.2,866.3 L684.8,860.8 L687.4,855.5 L689.9,850.4 L692.5,845.6 L695.1,840.9 L697.6,836.4 L700.2,832.2 L702.7,828.1 L705.3,824.1 L707.9,820.4 L710.4,816.8 L713.0,813.3 L715.5,809.9 L718.1,806.7 L720.7,803.6 L723.2,800.7 L725.8,797.8 L728.4,795.1 L730.9,792.4 L733.5,789.9 L736.0,787.4 L738.6,785.1 L741.2,782.8 L743.7,780.6 L746.3,778.4 L748.9,776.4 L751.4,774.4 L754.0,772.5 L756.5,770.6 L759.1,768.8 L761.7,767.1 L764.2,765.4 L766.8,763.8 L769.3,762.2 L771.9,760.7 L774.5,759.2 L777.0,757.8 L779.6,756.4 L782.2,755.0 L784.7,753.7 L787.3,752.5 L789.8,751.2 L792.4,750.0 L795.0,748.8 L797.5,747.7 L800.1,746.6 L802.6,745.5 L805.2,744.4 L807.8,743.4 L810.3,742.4 L812.9,741.4 L815.5,740.5 L818.0,739.6 L820.6,738.7 L823.1,737.8 L825.7,736.9 L828.3,736.1 L830.8,735.3 L833.4,734.5 L835.9,733.7 L838.5,732.9 L841.1,732.2 L843.6,731.4 L846.2,730.7 L848.8,730.0 L851.3,729.3 L853.9,728.6 L856.4,728.0 L859.0,727.3 L861.6,726.7 L864.1,726.1 L866.7,725.5 L869.2,724.9 L871.8,724.3 L874.4,723.7 L876.9,723.2 L879.5,722.6 L882.1,722.1 L884.6,721.5 L887.2,721.0 L889.7,720.5 L892.3,720.0 L894.9,719.5 L897.4,719.0 L900.0,718.5 L902.5,718.1 L905.1,717.6 L907.7,717.2 L910.2,716.7 L912.8,716.3 L915.4,715.9 L917.9,715.5 L920.5,715.0 L923.0,714.6 L925.6,714.2 L928.2,713.8 L930.7,713.5 L933.3,713.1 L935.8,712.7 L938.4,712.3 L941.0,712.0 L943.5,711.6 L946.1,711.3 L948.7,710.9 L951.2,710.6 L953.8,710.3 L956.3,709.9 L958.9,709.6 L961.5,709.3 L964.0,709.0 L966.6,708.7 L969.2,708.4 L971.7,708.1 L974.3,707.8 L976.8,707.5 L979.4,707.2 L982.0,706.9 L984.5,706.7 L987.1,706.4 L989.6,706.1 L992.2,705.9 L994.8,705.6 L997.3,705.4 L999.9,705.1 L1002.5,704.9 L1005.0,704.6 L1007.6,704.4 L1010.1,704.2 L1012.7,703.9 L1015.3,703.7 L1017.8,703.5 L1020.4,703.3 L1022.9,703.0" fill="none" stroke="#7f7a10" stroke-width="2"/>
<path d="M641.3,994.4 L643.8,984.9 L646.4,975.7 L649.0,966.8 L651.6,958.3 L654.2,950.1 L656.8,942.2 L659.4,934.5 L662.0,927.1 L664.5,920.0 L667.1,913.1 L669.7,906.4 L672.3,900.0 L674.9,893.8 L677.5,887.7 L680.1,881.9 L682.7,876.3 L685.2,870.8 L687.8,865.5 L690.4,860.4 L693.0,855.4 L695.6,850.6 L698.2,846.0 L700.8,841.4 L703.4,837.1 L705.9,832.8 L708.5,828.7 L711.1,824.8 L713.7,820.9 L716.3,817.2 L718.9,813.6 L721.5,810.0 L724.0,806.6 L726.6,803.3 L729.2,800.1 L731.8,797.0 L734.4,794.0 L737.0,791.1 L739.6,788.3 L742.2,785.6 L744.7,782.9 L747.3,780.3 L749.9,777.8 L752.5,775.4 L755.1,773.0 L757.7,770.8 L760.3,768.6 L762.9,766.4 L765.4,764.3 L768.0,762.3 L770.6,760.4 L773.2,758.5 L775.8,756.6 L778.4,754.8 L781.0,753.1 L783.6,751.4 L786.1,749.8 L788.7,748.2 L791.3,746.7 L793.9,745.2 L796.5,743.8 L799.1,742.4 L801.7,741.0 L804.2,739.7 L806.8,738.4 L809.4,737.2 L812.0,736.0 L814.6,734.8 L817.2,733.7 L819.8,732.6 L822.4,731.6 L824.9,730.5 L827.5,729.5 L830.1,728.6 L832.7,727.6 L835.3,726.7 L837.9,725.8 L840.5,725.0 L843.1,724.1 L845.6,723.3 L848.2,722.6 L850.8,721.8 L853.4,721.1 L856.0,720.3 L858.6,719.7 L861.2,719.0 L863.7,718.3 L866.3,717.7 L868.9,717.1 L871.5,716.5 L874.1,715.9 L876.7,715.4 L879.3,714.8 L881.9,714.3 L884.4,713.8 L887.0,713.3 L889.6,712.8 L892.2,712.4 L894.8,711.9 L897.4,711.5 L900.0,711.0 L902.6,710.6 L905.1,710.2 L907.7,709.8 L910.3,709.5 L912.9,709.1 L915.5,708.7 L918.1,708.4 L920.7,708.1 L923.3,707.8 L925.8,707.4 L928.4,707.1 L931.0,706.8 L933.6,706.6 L936.2,706.3 L938.8,706.0 L941.4,705.8 L943.9,705.5 L946.5,705.3 L949.1,705.0 L951.7,704.8 L954.3,704.6 L956.9,704.3 L959.5,704.1 L962.1,703.9 L964.6,703.7 L967.2,703.5 L969.8,703.4 L972.4,703.2 L975.0,703.0 L977.6,702.8 L980.2,702.7 L982.8,702.5 L985.3,702.4 L987.9,702.2 L990.5,702.1 L993.1,701.9 L995.7,701.8 L998.3,701.6 L1000.9,701.5 L1003.4,701.4 L1006.0,701.3 L1008.6,701.2 L1011.2,701.0 L1013.8,700.9 L1016.4,700.8 L1019.0,700.7 L1021.6,700.6 L1024.1,700.5 L1026.7,700.4" fill="none" stroke="#ff0000" stroke-width="2"/>
<polygon points="638.1,1006.6 648.3,1006.6 643.2,997.4" fill="#10ee10"/>
<polygon points="653.7,1001.8 663.9,1001.8 658.8,992.6" fill="#10ee10"/>
<polygon points="669.5,998.0 679.7,998.0 674.6,988.8" fill="#10ee10"/>
<polygon points="685.5,995.3 695.7,995.3 690.6,986.2" fill="#10ee10"/>
<polygon points="701.3,993.6 711.5,993.6 706.4,984.4" fill="#10ee10"/>
<polygon points="717.0,992.4 727.2,992.4 722.1,983.2" fill="#10ee10"/>
<polygon points="732.8,991.5 743.0,991.5 737.9,982.4" fill="#10ee10"/>
<polygon points="748.6,991.0 758.8,991.0 753.7,981.8" fill="#10ee10"/>
<polygon points="764.3,990.6 774.5,990.6 769.4,981.4" fill="#10ee10"/>
<polygon points="780.1,990.3 790.3,990.3 785.2,981.1" fill="#10ee10"/>
<polygon points="795.9,990.1 806.1,990.1 801.0,981.0" fill="#10ee10"/>
<polygon points="811.7,990.0 821.9,990.0 816.8,980.8" fill="#10ee10"/>
<polygon points="827.5,989.9 837.7,989.9 832.6,980.7" fill="#10ee10"/>
<polygon points="843.3,989.9 853.5,989.9 848.4,980.7" fill="#10ee10"/>
<polygon points="859.0,989.8 869.2,989.8 864.1,980.6" fill="#10ee10"/>
<polygon points="874.8,989.8 885.0,989.8 879.9,980.6" fill="#10ee10"/>
<polygon points="890.6,989.8 900.8,989.8 895.7,980.6" fill="#10ee10"/>
<polygon points="906.4,989.8 916.6,989.8 911.5,980.6" fill="#10ee10"/>
<polygon points="922.2,989.8 932.4,989.8 927.3,980.6" fill="#10ee10"/>
<polygon points="938.0,989.8 948.2,989.8 943.1,980.6" fill="#10ee10"/>
<polygon points="953.8,989.8 964.0,989.8 958.9,980.6" fill="#10ee10"/>
<polygon points="969.5,989.7 979.7,989.7 974.6,980.6" fill="#10ee10"/>
<polygon points="985.3,989.7 995.5,989.7 990.4,980.6" fill="#10ee10"/>
<polygon points="1001.1,989.7 1011.3,989.7 1006.2,980.6" fill="#10ee10"/>
<polygon points="1016.9,989.7 1027.1,989.7 1022.0,980.6" fill="#10ee10"/>
<path d="M638.2,1002.5 H648.2 M638.2,999.0 V1006.0 M648.2,999.0 V1006.0" stroke="#0000cc" stroke-width="1.5" fill="none"/>
<circle cx="643.2" cy="1002.5" r="4.2" fill="none" stroke="#0000cc" stroke-width="1.7"/>
<path d="M653.2,980.7 H663.2 M653.2,977.2 V984.2 M663.2,977.2 V984.2" stroke="#0000cc" stroke-width="1.5" fill="none"/>
<circle cx="658.2" cy="980.7" r="4.2" fill="none" stroke="#0000cc" stroke-width="1.7"/>
<path d="M668.7,967.4 H678.7 M668.7,963.9 V970.9 M678.7,963.9 V970.9" stroke="#0000cc" stroke-width="1.5" fill="none"/>
<circle cx="673.7" cy="967.4" r="4.2" fill="none" stroke="#0000cc" stroke-width="1.7"/>
<path d="M685.1,948.8 H695.1 M685.1,945.3 V952.3 M695.1,945.3 V952.3" stroke="#0000cc" stroke-width="1.5" fill="none"/>
<circle cx="690.1" cy="948.8" r="4.2" fill="none" stroke="#0000cc" stroke-width="1.7"/>
<path d="M701.9,937.0 H711.9 M701.9,933.5 V940.5 M711.9,933.5 V940.5" stroke="#0000cc" stroke-width="1.5" fill="none"/>
<circle cx="706.9" cy="937.0" r="4.2" fill="none" stroke="#0000cc" stroke-width="1.7"/>
<path d="M717.3,927.0 H727.3 M717.3,923.5 V930.5 M727.3,923.5 V930.5" stroke="#0000cc" stroke-width="1.5" fill="none"/>
<circle cx="722.3" cy="927.0" r="4.2" fill="none" stroke="#0000cc" stroke-width="1.7"/>
<path d="M733.1,922.4 H743.1 M733.1,918.9 V925.9 M743.1,918.9 V925.9" stroke="#0000cc" stroke-width="1.5" fill="none"/>
<circle cx="738.1" cy="922.4" r="4.2" fill="none" stroke="#0000cc" stroke-width="1.7"/>
<path d="M748.7,921.5 H758.7 M748.7,918.0 V925.0 M758.7,918.0 V925.0" stroke="#0000cc" stroke-width="1.5" fill="none"/>
<circle cx="753.7" cy="921.5" r="4.2" fill="none" stroke="#0000cc" stroke-width="1.7"/>
<path d="M764.4,918.8 H774.4 M764.4,915.3 V922.3 M774.4,915.3 V922.3" stroke="#0000cc" stroke-width="1.5" fill="none"/>
<circle cx="769.4" cy="918.8" r="4.2" fill="none" stroke="#0000cc" stroke-width="1.7"/>
<path d="M780.2,918.8 H790.2 M780.2,915.3 V922.3 M790.2,915.3 V922.3" stroke="#0000cc" stroke-width="1.5" fill="none"/>
<circle cx="785.2" cy="918.8" r="4.2" fill="none" stroke="#0000cc" stroke-width="1.7"/>
<path d="M796.0,916.0 H806.0 M796.0,912.5 V919.5 M806.0,912.5 V919.5" stroke="#0000cc" stroke-width="1.5" fill="none"/>
<circle cx="801.0" cy="916.0" r="4.2" fill="none" stroke="#0000cc" stroke-width="1.7"/>
<path d="M811.8,915.1 H821.8 M811.8,911.6 V918.6 M821.8,911.6 V918.6" stroke="#0000cc" stroke-width="1.5" fill="none"/>
<circle cx="816.8" cy="915.1" r="4.2" fill="none" stroke="#0000cc" stroke-width="1.7"/>
<path d="M827.6,915.1 H837.6 M827.6,911.6 V918.6 M837.6,911.6 V918.6" stroke="#0000cc" stroke-width="1.5" fill="none"/>
<circle cx="832.6" cy="915.1" r="4.2" fill="none" stroke="#0000cc" stroke-width="1.7"/>
<path d="M843.4,914.1 H853.4 M843.4,910.6 V917.6 M853.4,910.6 V917.6" stroke="#0000cc" stroke-width="1.5" fill="none"/>
<circle cx="848.4" cy="914.1" r="4.2" fill="none" stroke="#0000cc" stroke-width="1.7"/>
<path d="M859.1,913.8 H869.1 M859.1,910.3 V917.3 M869.1,910.3 V917.3" stroke="#0000cc" stroke-width="1.5" fill="none"/>
<circle cx="864.1" cy="913.8" r="4.2" fill="none" stroke="#0000cc" stroke-width="1.7"/>
<path d="M874.9,913.5 H884.9 M874.9,910.0 V917.0 M884.9,910.0 V917.0" stroke="#0000cc" stroke-width="1.5" fill="none"/>
<circle cx="879.9" cy="913.5" r="4.2" fill="none" stroke="#0000cc" stroke-width="1.7"/>
<path d="M890.7,913.3 H900.7 M890.7,909.8 V916.8 M900.7,909.8 V916.8" stroke="#0000cc" stroke-width="1.5" fill="none"/>
<circle cx="895.7" cy="913.3" r="4.2" fill="none" stroke="#0000cc" stroke-width="1.7"/>
<path d="M906.5,913.2 H916.5 M906.5,909.7 V916.7 M916.5,909.7 V916.7" stroke="#0000cc" stroke-width="1.5" fill="none"/>
<circle cx="911.5" cy="913.2" r="4.2" fill="none" stroke="#0000cc" stroke-width="1.7"/>
<path d="M922.3,913.1 H932.3 M922.3,909.6 V916.6 M932.3,909.6 V916.6" stroke="#0000cc" stroke-width="1.5" fill="none"/>
<circle cx="927.3" cy="913.1" r="4.2" fill="none" stroke="#0000cc" stroke-width="1.7"/>
<path d="M938.1,913.0 H948.1 M938.1,909.5 V916.5 M948.1,909.5 V916.5" stroke="#0000cc" stroke-width="1.5" fill="none"/>
<circle cx="943.1" cy="913.0" r="4.2" fill="none" stroke="#0000cc" stroke-width="1.7"/>
<path d="M953.9,912.9 H963.9 M953.9,909.4 V916.4 M963.9,909.4 V916.4" stroke="#0000cc" stroke-width="1.5" fill="none"/>
<circle cx="958.9" cy="912.9" r="4.2" fill="none" stroke="#0000cc" stroke-width="1.7"/>
<path d="M969.6,912.9 H979.6 M969.6,909.4 V916.4 M979.6,909.4 V916.4" stroke="#0000cc" stroke-width="1.5" fill="none"/>
<circle cx="974.6" cy="912.9" r="4.2" fill="none" stroke="#0000cc" stroke-width="1.7"/>
<path d="M985.4,912.9 H995.4 M985.4,909.4 V916.4 M995.4,909.4 V916.4" stroke="#0000cc" stroke-width="1.5" fill="none"/>
<circle cx="990.4" cy="912.9" r="4.2" fill="none" stroke="#0000cc" stroke-width="1.7"/>
<path d="M1001.2,912.9 H1011.2 M1001.2,909.4 V916.4 M1011.2,909.4 V916.4" stroke="#0000cc" stroke-width="1.5" fill="none"/>
<circle cx="1006.2" cy="912.9" r="4.2" fill="none" stroke="#0000cc" stroke-width="1.7"/>
<path d="M1017.0,912.8 H1027.0 M1017.0,909.3 V916.3 M1027.0,909.3 V916.3" stroke="#0000cc" stroke-width="1.5" fill="none"/>
<circle cx="1022.0" cy="912.8" r="4.2" fill="none" stroke="#0000cc" stroke-width="1.7"/>
<path d="M638.2,1002.5 H648.2 M638.2,999.0 V1006.0 M648.2,999.0 V1006.0" stroke="#10f0f0" stroke-width="1.5" fill="none"/>
<polygon points="643.2,996.8 648.9,1002.5 643.2,1008.2 637.5,1002.5" fill="#10f0f0"/>
<path d="M668.7,919.7 H678.7 M668.7,916.2 V923.2 M678.7,916.2 V923.2" stroke="#10f0f0" stroke-width="1.5" fill="none"/>
<polygon points="673.7,914.0 679.4,919.7 673.7,925.4 668.0,919.7" fill="#10f0f0"/>
<path d="M701.9,879.6 H711.9 M701.9,876.1 V883.1 M711.9,876.1 V883.1" stroke="#10f0f0" stroke-width="1.5" fill="none"/>
<polygon points="706.9,873.9 712.6,879.6 706.9,885.4 701.2,879.6" fill="#10f0f0"/>
<path d="M733.1,865.1 H743.1 M733.1,861.6 V868.6 M743.1,861.6 V868.6" stroke="#10f0f0" stroke-width="1.5" fill="none"/>
<polygon points="738.1,859.4 743.8,865.1 738.1,870.8 732.4,865.1" fill="#10f0f0"/>
<path d="M764.1,846.9 H774.1 M764.1,843.4 V850.4 M774.1,843.4 V850.4" stroke="#10f0f0" stroke-width="1.5" fill="none"/>
<polygon points="769.1,841.2 774.8,846.9 769.1,852.6 763.4,846.9" fill="#10f0f0"/>
<path d="M796.3,843.2 H806.3 M796.3,839.8 V846.8 M806.3,839.8 V846.8" stroke="#10f0f0" stroke-width="1.5" fill="none"/>
<polygon points="801.3,837.5 807.0,843.2 801.3,849.0 795.6,843.2" fill="#10f0f0"/>
<path d="M827.3,841.4 H837.3 M827.3,837.9 V844.9 M837.3,837.9 V844.9" stroke="#10f0f0" stroke-width="1.5" fill="none"/>
<polygon points="832.3,835.7 838.0,841.4 832.3,847.1 826.6,841.4" fill="#10f0f0"/>
<path d="M859.8,835.1 H869.8 M859.8,831.6 V838.6 M869.8,831.6 V838.6" stroke="#10f0f0" stroke-width="1.5" fill="none"/>
<polygon points="864.8,829.4 870.5,835.1 864.8,840.8 859.1,835.1" fill="#10f0f0"/>
<path d="M891.0,831.4 H901.0 M891.0,827.9 V834.9 M901.0,827.9 V834.9" stroke="#10f0f0" stroke-width="1.5" fill="none"/>
<polygon points="896.0,825.7 901.7,831.4 896.0,837.1 890.3,831.4" fill="#10f0f0"/>
<path d="M922.6,827.8 H932.6 M922.6,824.3 V831.3 M932.6,824.3 V831.3" stroke="#10f0f0" stroke-width="1.5" fill="none"/>
<polygon points="927.6,822.1 933.3,827.8 927.6,833.5 921.9,827.8" fill="#10f0f0"/>
<path d="M954.5,826.0 H964.5 M954.5,822.5 V829.5 M964.5,822.5 V829.5" stroke="#10f0f0" stroke-width="1.5" fill="none"/>
<polygon points="959.5,820.3 965.2,826.0 959.5,831.7 953.8,826.0" fill="#10f0f0"/>
<path d="M986.1,825.0 H996.1 M986.1,821.5 V828.5 M996.1,821.5 V828.5" stroke="#10f0f0" stroke-width="1.5" fill="none"/>
<polygon points="991.1,819.3 996.8,825.0 991.1,830.8 985.4,825.0" fill="#10f0f0"/>
<path d="M1017.9,824.1 H1027.9 M1017.9,820.6 V827.6 M1027.9,820.6 V827.6" stroke="#10f0f0" stroke-width="1.5" fill="none"/>
<polygon points="1022.9,818.4 1028.6,824.1 1022.9,829.8 1017.2,824.1" fill="#10f0f0"/>
<path d="M638.2,1002.5 H648.2 M638.2,999.0 V1006.0 M648.2,999.0 V1006.0" stroke="#f010f0" stroke-width="1.5" fill="none"/>
<polygon points="647.7,996.8 647.7,1008.2 637.5,1002.5" fill="#f010f0"/>
<path d="M685.1,876.9 H695.1 M685.1,873.4 V880.4 M695.1,873.4 V880.4" stroke="#f010f0" stroke-width="1.5" fill="none"/>
<polygon points="694.7,871.2 694.7,882.6 684.4,876.9" fill="#f010f0"/>
<path d="M732.2,816.0 H742.2 M732.2,812.5 V819.5 M742.2,812.5 V819.5" stroke="#f010f0" stroke-width="1.5" fill="none"/>
<polygon points="741.8,810.2 741.8,821.7 731.5,816.0" fill="#f010f0"/>
<path d="M780.2,778.6 H790.2 M780.2,775.1 V782.1 M790.2,775.1 V782.1" stroke="#f010f0" stroke-width="1.5" fill="none"/>
<polygon points="789.8,772.9 789.8,784.3 779.5,778.6" fill="#f010f0"/>
<path d="M827.3,763.2 H837.3 M827.3,759.7 V766.7 M837.3,759.7 V766.7" stroke="#f010f0" stroke-width="1.5" fill="none"/>
<polygon points="836.8,757.5 836.8,768.9 826.6,763.2" fill="#f010f0"/>
<path d="M875.6,753.2 H885.6 M875.6,749.7 V756.7 M885.6,749.7 V756.7" stroke="#f010f0" stroke-width="1.5" fill="none"/>
<polygon points="885.1,747.5 885.1,758.9 874.9,753.2" fill="#f010f0"/>
<path d="M922.6,745.9 H932.6 M922.6,742.4 V749.4 M932.6,742.4 V749.4" stroke="#f010f0" stroke-width="1.5" fill="none"/>
<polygon points="932.2,740.2 932.2,751.6 921.9,745.9" fill="#f010f0"/>
<path d="M970.0,744.1 H980.0 M970.0,740.6 V747.6 M980.0,740.6 V747.6" stroke="#f010f0" stroke-width="1.5" fill="none"/>
<polygon points="979.5,738.4 979.5,749.8 969.3,744.1" fill="#f010f0"/>
<path d="M1017.9,744.1 H1027.9 M1017.9,740.6 V747.6 M1027.9,740.6 V747.6" stroke="#f010f0" stroke-width="1.5" fill="none"/>
<polygon points="1027.5,738.4 1027.5,749.8 1017.2,744.1" fill="#f010f0"/>
<circle cx="643.2" cy="1002.5" r="6.3" fill="#7f7a10"/>
<circle cx="690.1" cy="866.9" r="6.3" fill="#7f7a10"/>
<circle cx="738.1" cy="786.8" r="6.3" fill="#7f7a10"/>
<circle cx="785.2" cy="745.0" r="6.3" fill="#7f7a10"/>
<circle cx="832.3" cy="730.4" r="6.3" fill="#7f7a10"/>
<circle cx="880.6" cy="725.9" r="6.3" fill="#7f7a10"/>
<circle cx="927.6" cy="714.9" r="6.3" fill="#7f7a10"/>
<path d="M975.0,701.6 V715.6 M970.0,701.6 H980.0 M970.0,715.6 H980.0" stroke="#7f7a10" stroke-width="2.2" fill="none"/>
<circle cx="975.0" cy="708.6" r="6.3" fill="#7f7a10"/>
<path d="M1022.9,700.7 V714.7 M1017.9,700.7 H1027.9 M1017.9,714.7 H1027.9" stroke="#7f7a10" stroke-width="2.2" fill="none"/>
<circle cx="1022.9" cy="707.7" r="6.3" fill="#7f7a10"/>
<path d="M637.7,988.9 H648.7 M637.7,986.4 V991.4 M648.7,986.4 V991.4" stroke="#ff0000" stroke-width="1.6" fill="none"/>
<path d="M643.2,983.4 V994.4 M640.7,983.4 H645.7 M640.7,994.4 H645.7" stroke="#ff0000" stroke-width="1.6" fill="none"/>
<polygon points="638.1,982.6 638.1,995.1 649.5,988.9" fill="#ff0000"/>
<path d="M668.2,885.1 H679.2 M668.2,882.6 V887.6 M679.2,882.6 V887.6" stroke="#ff0000" stroke-width="1.6" fill="none"/>
<path d="M673.7,879.6 V890.6 M671.2,879.6 H676.2 M671.2,890.6 H676.2" stroke="#ff0000" stroke-width="1.6" fill="none"/>
<polygon points="668.6,878.8 668.6,891.4 680.0,885.1" fill="#ff0000"/>
<path d="M701.4,838.7 H712.4 M701.4,836.2 V841.2 M712.4,836.2 V841.2" stroke="#ff0000" stroke-width="1.6" fill="none"/>
<path d="M706.9,833.2 V844.2 M704.4,833.2 H709.4 M704.4,844.2 H709.4" stroke="#ff0000" stroke-width="1.6" fill="none"/>
<polygon points="701.9,832.4 701.9,845.0 713.2,838.7" fill="#ff0000"/>
<path d="M733.3,795.0 H744.3 M733.3,792.5 V797.5 M744.3,792.5 V797.5" stroke="#ff0000" stroke-width="1.6" fill="none"/>
<path d="M738.8,789.5 V800.5 M736.3,789.5 H741.3 M736.3,800.5 H741.3" stroke="#ff0000" stroke-width="1.6" fill="none"/>
<polygon points="733.8,788.7 733.8,801.3 745.1,795.0" fill="#ff0000"/>
<path d="M763.3,757.7 H774.3 M763.3,755.2 V760.2 M774.3,755.2 V760.2" stroke="#ff0000" stroke-width="1.6" fill="none"/>
<path d="M768.8,752.2 V763.2 M766.3,752.2 H771.3 M766.3,763.2 H771.3" stroke="#ff0000" stroke-width="1.6" fill="none"/>
<polygon points="763.8,751.4 763.8,764.0 775.1,757.7" fill="#ff0000"/>
<path d="M795.8,737.7 H806.8 M795.8,735.2 V740.2 M806.8,735.2 V740.2" stroke="#ff0000" stroke-width="1.6" fill="none"/>
<path d="M801.3,732.2 V743.2 M798.8,732.2 H803.8 M798.8,743.2 H803.8" stroke="#ff0000" stroke-width="1.6" fill="none"/>
<polygon points="796.3,731.4 796.3,744.0 807.6,737.7" fill="#ff0000"/>
<path d="M826.8,723.1 H837.8 M826.8,720.6 V725.6 M837.8,720.6 V725.6" stroke="#ff0000" stroke-width="1.6" fill="none"/>
<path d="M832.3,717.6 V728.6 M829.8,717.6 H834.8 M829.8,728.6 H834.8" stroke="#ff0000" stroke-width="1.6" fill="none"/>
<polygon points="827.2,716.8 827.2,729.4 838.6,723.1" fill="#ff0000"/>
<path d="M858.6,716.8 H869.6 M858.6,714.3 V719.3 M869.6,714.3 V719.3" stroke="#ff0000" stroke-width="1.6" fill="none"/>
<path d="M864.1,711.3 V722.3 M861.6,711.3 H866.6 M861.6,722.3 H866.6" stroke="#ff0000" stroke-width="1.6" fill="none"/>
<polygon points="859.1,710.5 859.1,723.1 870.4,716.8" fill="#ff0000"/>
<path d="M890.5,708.6 H901.5 M890.5,706.1 V711.1 M901.5,706.1 V711.1" stroke="#ff0000" stroke-width="1.6" fill="none"/>
<path d="M896.0,703.1 V714.1 M893.5,703.1 H898.5 M893.5,714.1 H898.5" stroke="#ff0000" stroke-width="1.6" fill="none"/>
<polygon points="891.0,702.3 891.0,714.9 902.3,708.6" fill="#ff0000"/>
<path d="M922.1,705.8 H933.1 M922.1,703.3 V708.3 M933.1,703.3 V708.3" stroke="#ff0000" stroke-width="1.6" fill="none"/>
<path d="M927.6,700.3 V711.3 M925.1,700.3 H930.1 M925.1,711.3 H930.1" stroke="#ff0000" stroke-width="1.6" fill="none"/>
<polygon points="922.6,699.5 922.6,712.1 933.9,705.8" fill="#ff0000"/>
<path d="M954.0,705.8 H965.0 M954.0,703.3 V708.3 M965.0,703.3 V708.3" stroke="#ff0000" stroke-width="1.6" fill="none"/>
<path d="M959.5,700.3 V711.3 M957.0,700.3 H962.0 M957.0,711.3 H962.0" stroke="#ff0000" stroke-width="1.6" fill="none"/>
<polygon points="954.4,699.5 954.4,712.1 965.8,705.8" fill="#ff0000"/>
<path d="M985.6,704.9 H996.6 M985.6,702.4 V707.4 M996.6,702.4 V707.4" stroke="#ff0000" stroke-width="1.6" fill="none"/>
<path d="M991.1,699.4 V710.4 M988.6,699.4 H993.6 M988.6,710.4 H993.6" stroke="#ff0000" stroke-width="1.6" fill="none"/>
<polygon points="986.0,698.6 986.0,711.2 997.4,704.9" fill="#ff0000"/>
<path d="M1017.4,704.0 H1028.4 M1017.4,701.5 V706.5 M1028.4,701.5 V706.5" stroke="#ff0000" stroke-width="1.6" fill="none"/>
<path d="M1022.9,698.5 V709.5 M1020.4,698.5 H1025.4 M1020.4,709.5 H1025.4" stroke="#ff0000" stroke-width="1.6" fill="none"/>
<polygon points="1017.9,697.7 1017.9,710.3 1029.2,704.0" fill="#ff0000"/>
<rect x="637.2" y="996.5" width="12.0" height="12.0" fill="#000"/>
<rect x="716.1" y="996.5" width="12.0" height="12.0" fill="#000"/>
<rect x="795.0" y="996.5" width="12.0" height="12.0" fill="#000"/>
<rect x="873.9" y="996.5" width="12.0" height="12.0" fill="#000"/>
<rect x="952.9" y="996.5" width="12.0" height="12.0" fill="#000"/>
<circle cx="643.2" cy="1002.1" r="4.3" fill="#f77f10"/>
<circle cx="658.9" cy="1002.1" r="4.3" fill="#f77f10"/>
<circle cx="674.7" cy="1002.1" r="4.3" fill="#f77f10"/>
<circle cx="690.5" cy="1002.1" r="4.3" fill="#f77f10"/>
<circle cx="706.3" cy="1002.1" r="4.3" fill="#f77f10"/>
<circle cx="722.1" cy="1002.1" r="4.3" fill="#f77f10"/>
<circle cx="737.9" cy="1002.1" r="4.3" fill="#f77f10"/>
<circle cx="753.7" cy="1002.1" r="4.3" fill="#f77f10"/>
<circle cx="769.4" cy="1002.1" r="4.3" fill="#f77f10"/>
<circle cx="785.2" cy="1002.1" r="4.3" fill="#f77f10"/>
<circle cx="801.0" cy="1002.1" r="4.3" fill="#f77f10"/>
<circle cx="816.8" cy="1002.1" r="4.3" fill="#f77f10"/>
<circle cx="832.6" cy="1002.1" r="4.3" fill="#f77f10"/>
<circle cx="848.4" cy="1002.1" r="4.3" fill="#f77f10"/>
<circle cx="864.1" cy="1002.1" r="4.3" fill="#f77f10"/>
<circle cx="879.9" cy="1002.1" r="4.3" fill="#f77f10"/>
<circle cx="895.7" cy="1002.1" r="4.3" fill="#f77f10"/>
<circle cx="911.5" cy="1002.1" r="4.3" fill="#f77f10"/>
<circle cx="927.3" cy="1002.1" r="4.3" fill="#f77f10"/>
<circle cx="943.1" cy="1002.1" r="4.3" fill="#f77f10"/>
<circle cx="958.9" cy="1002.1" r="4.3" fill="#f77f10"/>
<circle cx="974.6" cy="1002.1" r="4.3" fill="#f77f10"/>
<circle cx="990.4" cy="1002.1" r="4.3" fill="#f77f10"/>
<circle cx="1006.2" cy="1002.1" r="4.3" fill="#f77f10"/>
<circle cx="1022.0" cy="1002.1" r="4.3" fill="#f77f10"/>
<path d="M941.5,996.1 V999.8 M937.5,996.1 H945.5 M937.5,999.8 H945.5" stroke="#f77f10" stroke-width="2.2" fill="none"/>
<rect x="937.9" y="995.3" width="7.2" height="7.2" fill="#f77f10"/>
<path d="M643.2,999.5 V1007.5 M640.2,999.5 H646.2 M640.2,1007.5 H646.2" stroke="#7f1f7f" stroke-width="1.4" fill="none"/>
<polygon points="643.2,999.2 647.2,1002.1 645.7,1006.9 640.6,1006.9 639.1,1002.1" fill="none" stroke="#7f1f7f" stroke-width="1.6"/>
<path d="M690.5,1000.3 V1008.3 M687.5,1000.3 H693.5 M687.5,1008.3 H693.5" stroke="#7f1f7f" stroke-width="1.4" fill="none"/>
<polygon points="690.5,1000.0 694.6,1003.0 693.0,1007.8 688.0,1007.8 686.4,1003.0" fill="none" stroke="#7f1f7f" stroke-width="1.6"/>
<path d="M737.9,1001.2 V1009.2 M734.9,1001.2 H740.9 M734.9,1009.2 H740.9" stroke="#7f1f7f" stroke-width="1.4" fill="none"/>
<polygon points="737.9,1000.9 742.0,1003.8 740.4,1008.6 735.3,1008.6 733.8,1003.8" fill="none" stroke="#7f1f7f" stroke-width="1.6"/>
<path d="M785.2,1002.0 V1010.0 M782.2,1002.0 H788.2 M782.2,1010.0 H788.2" stroke="#7f1f7f" stroke-width="1.4" fill="none"/>
<polygon points="785.2,1001.7 789.3,1004.7 787.7,1009.5 782.7,1009.5 781.1,1004.7" fill="none" stroke="#7f1f7f" stroke-width="1.6"/>
<path d="M832.6,1002.8 V1010.8 M829.6,1002.8 H835.6 M829.6,1010.8 H835.6" stroke="#7f1f7f" stroke-width="1.4" fill="none"/>
<polygon points="832.6,1002.5 836.7,1005.5 835.1,1010.3 830.0,1010.3 828.5,1005.5" fill="none" stroke="#7f1f7f" stroke-width="1.6"/>
<path d="M879.9,1003.7 V1011.7 M876.9,1003.7 H882.9 M876.9,1011.7 H882.9" stroke="#7f1f7f" stroke-width="1.4" fill="none"/>
<polygon points="879.9,1003.4 884.0,1006.4 882.5,1011.2 877.4,1011.2 875.8,1006.4" fill="none" stroke="#7f1f7f" stroke-width="1.6"/>
<path d="M927.3,1004.5 V1012.5 M924.3,1004.5 H930.3 M924.3,1012.5 H930.3" stroke="#7f1f7f" stroke-width="1.4" fill="none"/>
<polygon points="927.3,1004.2 931.4,1007.2 929.8,1012.0 924.8,1012.0 923.2,1007.2" fill="none" stroke="#7f1f7f" stroke-width="1.6"/>
<path d="M974.6,1005.4 V1013.4 M971.6,1005.4 H977.6 M971.6,1013.4 H977.6" stroke="#7f1f7f" stroke-width="1.4" fill="none"/>
<polygon points="974.6,1005.1 978.7,1008.0 977.2,1012.8 972.1,1012.8 970.6,1008.0" fill="none" stroke="#7f1f7f" stroke-width="1.6"/>
<path d="M1022.0,1006.2 V1014.2 M1019.0,1006.2 H1025.0 M1019.0,1014.2 H1025.0" stroke="#7f1f7f" stroke-width="1.4" fill="none"/>
<polygon points="1022.0,1005.9 1026.1,1008.9 1024.5,1013.7 1019.5,1013.7 1017.9,1008.9" fill="none" stroke="#7f1f7f" stroke-width="1.6"/>
<polygon points="643.2,998.1 644.6,1001.5 648.2,1001.8 645.4,1004.1 646.3,1007.7 643.2,1005.8 640.0,1007.7 640.9,1004.1 638.1,1001.8 641.8,1001.5" fill="#ee10ee" stroke="#ee10ee" stroke-width="1.4"/>
<polygon points="706.3,998.1 707.7,1001.5 711.3,1001.8 708.6,1004.1 709.4,1007.7 706.3,1005.8 703.2,1007.7 704.0,1004.1 701.3,1001.8 704.9,1001.5" fill="#ee10ee" stroke="#ee10ee" stroke-width="1.4"/>
<polygon points="769.4,998.1 770.8,1001.5 774.5,1001.8 771.7,1004.1 772.6,1007.7 769.4,1005.8 766.3,1007.7 767.2,1004.1 764.4,1001.8 768.0,1001.5" fill="#ee10ee" stroke="#ee10ee" stroke-width="1.4"/>
<polygon points="832.6,998.1 834.0,1001.5 837.6,1001.8 834.8,1004.1 835.7,1007.7 832.6,1005.8 829.5,1007.7 830.3,1004.1 827.5,1001.8 831.2,1001.5" fill="#ee10ee" stroke="#ee10ee" stroke-width="1.4"/>
<polygon points="895.7,998.1 897.1,1001.5 900.8,1001.8 898.0,1004.1 898.8,1007.7 895.7,1005.8 892.6,1007.7 893.4,1004.1 890.7,1001.8 894.3,1001.5" fill="#ee10ee" stroke="#ee10ee" stroke-width="1.4"/>
<polygon points="958.9,998.1 960.3,1001.5 963.9,1001.8 961.1,1004.1 962.0,1007.7 958.9,1005.8 955.7,1007.7 956.6,1004.1 953.8,1001.8 957.5,1001.5" fill="#ee10ee" stroke="#ee10ee" stroke-width="1.4"/>
<polygon points="1022.0,998.1 1023.4,1001.5 1027.0,1001.8 1024.3,1004.1 1025.1,1007.7 1022.0,1005.8 1018.9,1007.7 1019.7,1004.1 1017.0,1001.8 1020.6,1001.5" fill="#ee10ee" stroke="#ee10ee" stroke-width="1.4"/>
</g>
<rect x="81.7" y="492.2" width="13.4" height="13.4" fill="#7f7f00"/>
<text x="104.3" y="504.9" font-size="20.5" text-anchor="start" textLength="264.8" lengthAdjust="spacingAndGlyphs">TrxRFP1 + 10 mM <tspan font-size="14">L</tspan>-ascorbic acid</text>
<circle cx="88.4" cy="520.1" r="5.8" fill="none" stroke="#0f7f0f" stroke-width="1.9"/>
<text x="104.3" y="526.1" font-size="20.5" text-anchor="start" textLength="226.6" lengthAdjust="spacingAndGlyphs">TrxRFP1 + 10 mM <tspan font-size="14">L</tspan>-cysteine</text>
<rect x="81.7" y="534.6" width="13.4" height="13.4" fill="#ff7f0f"/>
<text x="104.3" y="547.3" font-size="20.5" text-anchor="start" textLength="170" lengthAdjust="spacingAndGlyphs">TrxRFP1 + 1 mM GSH</text>
<polygon points="81.7,557.1 95.1,557.1 88.4,569.2" fill="#0000ee"/>
<text x="104.3" y="568.5" font-size="20.5" text-anchor="start" textLength="260.8" lengthAdjust="spacingAndGlyphs">rxRFP1 + 50 nM TrxR1 + NADPH</text>
<polygon points="93.8,577.0 93.8,590.4 81.7,583.7" fill="#f010f0"/>
<text x="104.3" y="589.7" font-size="20.5" text-anchor="start" textLength="260" lengthAdjust="spacingAndGlyphs">TrxRFP1 + 5 nM TrxR1 + NADPH</text>
<polygon points="88.4,598.2 95.1,604.9 88.4,611.6 81.7,604.9" fill="#10f0f0"/>
<text x="104.3" y="610.9" font-size="20.5" text-anchor="start" textLength="267.1" lengthAdjust="spacingAndGlyphs">TrxRFP1 + 15 nM TrxR1 + NADPH</text>
<circle cx="88.4" cy="626.1" r="6.7" fill="#14807a"/>
<text x="104.3" y="632.1" font-size="20.5" text-anchor="start" textLength="272.3" lengthAdjust="spacingAndGlyphs">TrxRFP1 + 50 nM TrxR1 + NADPH</text>
<polygon points="88.4,641.5 94.2,647.3 88.4,653.1 82.6,647.3" fill="none" stroke="#7a1fe8" stroke-width="1.9"/>
<text x="104.3" y="653.3" font-size="20.5" text-anchor="start" textLength="408.6" lengthAdjust="spacingAndGlyphs">TrxRFP1 + 50 nM TrxR1 + NADPH + 100 µM GSSG</text>
<defs><clipPath id="cleg"><rect x="600" y="470" width="450" height="227.5"/></clipPath></defs>
<g clip-path="url(#cleg)">
<polygon points="649.1,486.8 649.1,500.4 661.4,493.6" fill="#ff0000"/>
<text x="671.7" y="499.4" font-size="20.5" text-anchor="start" textLength="254" lengthAdjust="spacingAndGlyphs">TrxRFP1 + TPx1 + 100 µM H<tspan font-size="13" dy="4">2</tspan><tspan dy="-4">O</tspan><tspan font-size="13" dy="4">2</tspan><tspan dy="-4">​</tspan></text>
<circle cx="654.6" cy="515.4" r="6.5" fill="#7f7a10"/>
<text x="671.7" y="521.2" font-size="20.5" text-anchor="start" textLength="372.6" lengthAdjust="spacingAndGlyphs">TrxRFP1 + TPx1 + 100 µM H<tspan font-size="13" dy="4">2</tspan><tspan dy="-4">O</tspan><tspan font-size="13" dy="4">2</tspan><tspan dy="-4"> + 10 mM GSH</tspan></text>
<polygon points="659.8,530.8 659.8,543.7 648.1,537.2" fill="#f010f0"/>
<text x="671.7" y="543.0" font-size="20.5" text-anchor="start" textLength="242.6" lengthAdjust="spacingAndGlyphs">TrxRFP1 + TPx1 + 10 µM H<tspan font-size="13" dy="4">2</tspan><tspan dy="-4">O</tspan><tspan font-size="13" dy="4">2</tspan><tspan dy="-4">​</tspan></text>
<polygon points="654.6,552.2 661.4,559.1 654.6,565.9 647.8,559.1" fill="#10f0f0"/>
<text x="671.7" y="564.9" font-size="20.5" text-anchor="start" textLength="229.7" lengthAdjust="spacingAndGlyphs">TrxRFP1 + TPx1 + 1 µM H<tspan font-size="13" dy="4">2</tspan><tspan dy="-4">O</tspan><tspan font-size="13" dy="4">2</tspan><tspan dy="-4">​</tspan></text>
<circle cx="654.6" cy="580.9" r="5.5" fill="none" stroke="#0000cc" stroke-width="1.9"/>
<text x="671.7" y="586.7" font-size="20.5" text-anchor="start" textLength="253.2" lengthAdjust="spacingAndGlyphs">TrxRFP1 + TPx1 + 100 nM H<tspan font-size="13" dy="4">2</tspan><tspan dy="-4">O</tspan><tspan font-size="13" dy="4">2</tspan><tspan dy="-4">​</tspan></text>
<polygon points="647.8,609.2 661.4,609.2 654.6,596.9" fill="#10ee10"/>
<text x="671.7" y="608.5" font-size="20.5" text-anchor="start" textLength="241.7" lengthAdjust="spacingAndGlyphs">TrxRFP1 + TPx1 + 10 nM H<tspan font-size="13" dy="4">2</tspan><tspan dy="-4">O</tspan><tspan font-size="13" dy="4">2</tspan><tspan dy="-4">​</tspan></text>
<polygon points="654.6,619.0 659.9,622.8 657.9,629.0 651.3,629.0 649.3,622.8" fill="none" stroke="#7f1f7f" stroke-width="1.9"/>
<text x="671.7" y="630.3" font-size="20.5" text-anchor="start" textLength="243.4" lengthAdjust="spacingAndGlyphs">rxRFP1 + TPx1 + 100 µM H<tspan font-size="13" dy="4">2</tspan><tspan dy="-4">O</tspan><tspan font-size="13" dy="4">2</tspan><tspan dy="-4">​</tspan></text>
<circle cx="654.6" cy="646.3" r="6.5" fill="#f77f10"/>
<text x="671.7" y="652.1" font-size="20.5" text-anchor="start" textLength="234.9" lengthAdjust="spacingAndGlyphs">TrxRFP1 + 100 µM H<tspan font-size="13" dy="4">2</tspan><tspan dy="-4">O</tspan><tspan font-size="13" dy="4">2</tspan><tspan dy="-4"> only</tspan></text>
<polygon points="654.6,664.1 656.1,667.6 659.9,668.0 657.0,670.4 657.9,674.1 654.6,672.1 651.3,674.1 652.2,670.4 649.3,668.0 653.1,667.6" fill="none" stroke="#ee10ee" stroke-width="1.9"/>
<text x="671.7" y="674.0" font-size="20.5" text-anchor="start" textLength="198.3" lengthAdjust="spacingAndGlyphs">TrxRFP1 + 100 µM GSSG</text>
<rect x="649.1" y="684.5" width="11.0" height="11.0" fill="#000000"/>
<text x="671.7" y="695.8" font-size="20.5" text-anchor="start" textLength="152" lengthAdjust="spacingAndGlyphs">TrxRFP1 + TPx only</text>
</g>
</svg></body></html>
